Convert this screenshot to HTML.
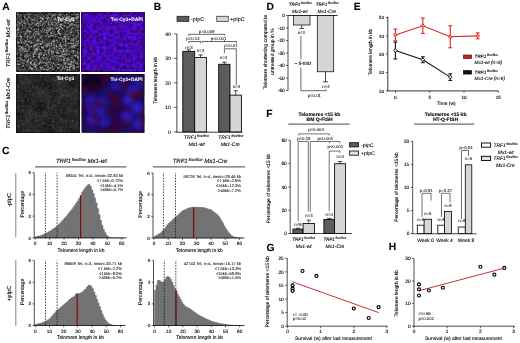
<!DOCTYPE html>
<html><head><meta charset="utf-8"><style>
html,body{margin:0;padding:0;background:#fff;width:520px;height:343px;overflow:hidden}
svg{display:block;will-change:transform;filter:blur(0.3px)}
text{font-family:"Liberation Sans", sans-serif;text-rendering:geometricPrecision;stroke:#000;stroke-width:0.1px}
</style></head><body>
<svg width="520" height="343" viewBox="0 0 520 343">
<rect width="520" height="343" fill="#fff"/>
<text x="2.20" y="9.70" font-size="10.3" text-anchor="start" font-weight="bold" font-style="normal" fill="#000" >A</text>
<text x="153.65" y="9.70" font-size="10.3" text-anchor="start" font-weight="bold" font-style="normal" fill="#000" >B</text>
<text x="1.95" y="153.90" font-size="10.3" text-anchor="start" font-weight="bold" font-style="normal" fill="#000" >C</text>
<text x="266.45" y="9.70" font-size="10.3" text-anchor="start" font-weight="bold" font-style="normal" fill="#000" >D</text>
<text x="353.65" y="9.70" font-size="10.3" text-anchor="start" font-weight="bold" font-style="normal" fill="#000" >E</text>
<text x="266.15" y="116.50" font-size="10.3" text-anchor="start" font-weight="bold" font-style="normal" fill="#000" >F</text>
<text x="266.45" y="250.60" font-size="10.3" text-anchor="start" font-weight="bold" font-style="normal" fill="#000" >G</text>
<text x="388.65" y="250.40" font-size="10.3" text-anchor="start" font-weight="bold" font-style="normal" fill="#000" >H</text>
<defs>
<filter id="gb1" x="0" y="0" width="1" height="1" color-interpolation-filters="sRGB">
 <feTurbulence type="fractalNoise" baseFrequency="0.45" numOctaves="2" seed="21"/>
 <feColorMatrix type="matrix" values="0.7 0 0 0 -0.13  0.7 0 0 0 -0.13  0.7 0 0 0 -0.13  0 0 0 0 1"/>
</filter>
<filter id="ng1" x="0" y="0" width="1" height="1" color-interpolation-filters="sRGB">
 <feTurbulence type="fractalNoise" baseFrequency="0.8" numOctaves="1" seed="3" result="t"/>
 <feColorMatrix type="matrix" values="0 0 0 0 0  0 0 0 0 0  0 0 0 0 0  3.2 0 0 0 -1.65" result="a"/>
 <feFlood flood-color="#a8a8a8"/>
 <feComposite in2="a" operator="in"/>
</filter>
<filter id="gb2" x="0" y="0" width="1" height="1" color-interpolation-filters="sRGB">
 <feTurbulence type="fractalNoise" baseFrequency="0.09" numOctaves="3" seed="7"/>
 <feColorMatrix type="matrix" values="0.2 0 0 0 0.03  0.2 0 0 0 0.03  0.2 0 0 0 0.03  0 0 0 0 1"/>
</filter>
<filter id="ng2" x="0" y="0" width="1" height="1" color-interpolation-filters="sRGB">
 <feTurbulence type="fractalNoise" baseFrequency="0.8" numOctaves="1" seed="13" result="t"/>
 <feColorMatrix type="matrix" values="0 0 0 0 0  0 0 0 0 0  0 0 0 0 0  4.0 0 0 0 -2.75" result="a"/>
 <feFlood flood-color="#909090"/>
 <feComposite in2="a" operator="in"/>
</filter>
<filter id="bb1" x="0" y="0" width="1" height="1" color-interpolation-filters="sRGB">
 <feTurbulence type="fractalNoise" baseFrequency="0.3" numOctaves="3" seed="11"/>
 <feColorMatrix type="matrix" values="0.3 0 0 0 0.1  0.08 0 0 0 -0.01  1.3 0 0 0 0.06  0 0 0 0 1"/>
</filter>
<filter id="nb1" x="0" y="0" width="1" height="1" color-interpolation-filters="sRGB">
 <feTurbulence type="fractalNoise" baseFrequency="0.22" numOctaves="3" seed="5"/>
 <feColorMatrix type="matrix" values="0 0 0 0 0.45  0 0 0 0 0.04  0 0 0 0 0.5  1.6 0 0 0 -0.75"/>
</filter>
<filter id="bb2" x="0" y="0" width="1" height="1" color-interpolation-filters="sRGB">
 <feTurbulence type="fractalNoise" baseFrequency="0.075" numOctaves="2" seed="2"/>
 <feColorMatrix type="matrix" values="0.3 0 0 0 -0.05  0.2 0 0 0 -0.05  2.2 0 0 0 -0.75  0 0 0 0 1"/>
</filter>
<filter id="nb2r" x="0" y="0" width="1" height="1" color-interpolation-filters="sRGB">
 <feTurbulence type="fractalNoise" baseFrequency="0.1" numOctaves="2" seed="9"/>
 <feColorMatrix type="matrix" values="0 0 0 0 0.3  0 0 0 0 0.02  0 0 0 0 0.12  1.8 0 0 0 -0.8"/>
</filter>
<clipPath id="cbb"><rect x="81.7" y="74" width="62.6" height="58.7"/></clipPath>
<filter id="blr" x="-0.1" y="-0.1" width="1.2" height="1.2"><feGaussianBlur stdDeviation="2.4"/></filter>
<clipPath id="cgt"><rect x="16" y="12.9" width="63.6" height="59"/></clipPath>
<filter id="sb" x="-0.05" y="-0.05" width="1.1" height="1.1"><feGaussianBlur stdDeviation="0.35"/></filter>
<filter id="fg2" x="0" y="0" width="1" height="1" color-interpolation-filters="sRGB">
 <feTurbulence type="fractalNoise" baseFrequency="0.4" numOctaves="2" seed="17"/>
 <feColorMatrix type="matrix" values="0 0 0 0 0.4  0 0 0 0 0.4  0 0 0 0 0.4  1.1 0 0 0 -0.5"/>
</filter>
</defs>
<rect x="16" y="12.9" width="63.6" height="59" filter="url(#gb1)"/>
<g clip-path="url(#cgt)" filter="url(#sb)"><circle cx="31.3" cy="19.3" r="0.59" fill="rgb(142,142,142)"/><circle cx="20.6" cy="36.4" r="0.77" fill="rgb(194,194,194)"/><circle cx="64.8" cy="26.1" r="0.64" fill="rgb(152,152,152)"/><circle cx="27.3" cy="19.5" r="0.53" fill="rgb(204,204,204)"/><circle cx="68.8" cy="59.5" r="0.73" fill="rgb(145,145,145)"/><circle cx="36.0" cy="49.3" r="0.71" fill="rgb(198,198,198)"/><circle cx="72.0" cy="18.4" r="0.66" fill="rgb(183,183,183)"/><circle cx="48.4" cy="23.6" r="0.62" fill="rgb(137,137,137)"/><circle cx="75.5" cy="62.9" r="0.64" fill="rgb(154,154,154)"/><circle cx="73.8" cy="46.1" r="0.76" fill="rgb(197,197,197)"/><circle cx="48.5" cy="37.1" r="0.66" fill="rgb(164,164,164)"/><circle cx="26.6" cy="30.9" r="0.73" fill="rgb(133,133,133)"/><circle cx="19.3" cy="49.2" r="0.55" fill="rgb(172,172,172)"/><circle cx="46.2" cy="33.0" r="0.80" fill="rgb(145,145,145)"/><circle cx="42.5" cy="25.0" r="0.67" fill="rgb(152,152,152)"/><circle cx="38.9" cy="56.1" r="0.56" fill="rgb(174,174,174)"/><circle cx="73.6" cy="19.2" r="0.47" fill="rgb(148,148,148)"/><circle cx="64.8" cy="48.6" r="0.53" fill="rgb(156,156,156)"/><circle cx="27.6" cy="39.7" r="0.46" fill="rgb(185,185,185)"/><circle cx="73.0" cy="68.0" r="0.71" fill="rgb(206,206,206)"/><circle cx="17.5" cy="29.9" r="0.79" fill="rgb(192,192,192)"/><circle cx="42.3" cy="67.4" r="0.67" fill="rgb(195,195,195)"/><circle cx="34.9" cy="24.3" r="0.61" fill="rgb(140,140,140)"/><circle cx="40.5" cy="68.4" r="0.57" fill="rgb(130,130,130)"/><circle cx="19.2" cy="23.1" r="0.72" fill="rgb(159,159,159)"/><circle cx="34.7" cy="19.0" r="0.79" fill="rgb(163,163,163)"/><circle cx="29.5" cy="16.8" r="0.47" fill="rgb(143,143,143)"/><circle cx="59.2" cy="22.0" r="0.46" fill="rgb(169,169,169)"/><circle cx="32.1" cy="70.5" r="0.49" fill="rgb(172,172,172)"/><circle cx="65.3" cy="36.8" r="0.80" fill="rgb(168,168,168)"/><circle cx="31.7" cy="36.9" r="0.46" fill="rgb(163,163,163)"/><circle cx="32.1" cy="64.3" r="0.74" fill="rgb(169,169,169)"/><circle cx="18.4" cy="28.0" r="0.53" fill="rgb(146,146,146)"/><circle cx="31.0" cy="63.1" r="0.50" fill="rgb(134,134,134)"/><circle cx="75.1" cy="45.7" r="0.80" fill="rgb(162,162,162)"/><circle cx="73.3" cy="50.8" r="0.73" fill="rgb(189,189,189)"/><circle cx="47.6" cy="18.7" r="0.52" fill="rgb(199,199,199)"/><circle cx="73.3" cy="66.3" r="0.57" fill="rgb(182,182,182)"/><circle cx="66.9" cy="50.2" r="0.74" fill="rgb(172,172,172)"/><circle cx="57.8" cy="52.6" r="0.54" fill="rgb(203,203,203)"/><circle cx="76.8" cy="17.7" r="0.79" fill="rgb(206,206,206)"/><circle cx="58.6" cy="15.9" r="0.76" fill="rgb(140,140,140)"/><circle cx="77.6" cy="51.6" r="0.47" fill="rgb(143,143,143)"/><circle cx="56.5" cy="46.0" r="0.71" fill="rgb(204,204,204)"/><circle cx="30.2" cy="13.6" r="0.77" fill="rgb(131,131,131)"/><circle cx="71.8" cy="20.0" r="0.73" fill="rgb(192,192,192)"/><circle cx="71.9" cy="44.9" r="0.76" fill="rgb(146,146,146)"/><circle cx="58.8" cy="32.3" r="0.76" fill="rgb(191,191,191)"/><circle cx="46.2" cy="43.5" r="0.46" fill="rgb(132,132,132)"/><circle cx="54.0" cy="41.4" r="0.75" fill="rgb(178,178,178)"/><circle cx="25.2" cy="34.1" r="0.72" fill="rgb(171,171,171)"/><circle cx="17.1" cy="61.3" r="0.74" fill="rgb(136,136,136)"/><circle cx="50.7" cy="35.2" r="0.73" fill="rgb(154,154,154)"/><circle cx="31.2" cy="41.2" r="0.79" fill="rgb(137,137,137)"/><circle cx="23.6" cy="48.9" r="0.76" fill="rgb(170,170,170)"/><circle cx="43.8" cy="62.5" r="0.72" fill="rgb(135,135,135)"/><circle cx="72.1" cy="24.6" r="0.56" fill="rgb(196,196,196)"/><circle cx="43.1" cy="59.1" r="0.51" fill="rgb(199,199,199)"/><circle cx="27.5" cy="21.9" r="0.62" fill="rgb(157,157,157)"/><circle cx="50.6" cy="65.1" r="0.70" fill="rgb(130,130,130)"/><circle cx="36.1" cy="44.6" r="0.62" fill="rgb(187,187,187)"/><circle cx="47.0" cy="17.7" r="0.54" fill="rgb(197,197,197)"/><circle cx="38.9" cy="57.3" r="0.80" fill="rgb(180,180,180)"/><circle cx="59.2" cy="48.3" r="0.56" fill="rgb(203,203,203)"/><circle cx="45.9" cy="65.5" r="0.56" fill="rgb(199,199,199)"/><circle cx="66.1" cy="48.5" r="0.60" fill="rgb(141,141,141)"/><circle cx="65.1" cy="34.1" r="0.68" fill="rgb(140,140,140)"/><circle cx="21.6" cy="21.6" r="0.73" fill="rgb(144,144,144)"/><circle cx="73.4" cy="34.7" r="0.65" fill="rgb(158,158,158)"/><circle cx="55.6" cy="18.7" r="0.59" fill="rgb(204,204,204)"/><circle cx="27.8" cy="50.8" r="0.56" fill="rgb(154,154,154)"/><circle cx="17.9" cy="14.5" r="0.78" fill="rgb(196,196,196)"/><circle cx="67.0" cy="59.6" r="0.78" fill="rgb(142,142,142)"/><circle cx="53.3" cy="41.7" r="0.65" fill="rgb(205,205,205)"/><circle cx="64.4" cy="68.8" r="0.49" fill="rgb(182,182,182)"/><circle cx="59.1" cy="56.0" r="0.67" fill="rgb(196,196,196)"/><circle cx="35.5" cy="66.5" r="0.59" fill="rgb(177,177,177)"/><circle cx="73.1" cy="53.6" r="0.56" fill="rgb(148,148,148)"/><circle cx="37.0" cy="49.3" r="0.80" fill="rgb(201,201,201)"/><circle cx="41.7" cy="36.3" r="0.74" fill="rgb(152,152,152)"/><circle cx="42.4" cy="14.2" r="0.51" fill="rgb(173,173,173)"/><circle cx="60.2" cy="48.6" r="0.58" fill="rgb(206,206,206)"/><circle cx="55.8" cy="22.3" r="0.47" fill="rgb(207,207,207)"/><circle cx="78.8" cy="66.0" r="0.66" fill="rgb(154,154,154)"/><circle cx="22.2" cy="28.2" r="0.53" fill="rgb(204,204,204)"/><circle cx="72.8" cy="57.9" r="0.50" fill="rgb(149,149,149)"/><circle cx="35.3" cy="67.6" r="0.51" fill="rgb(193,193,193)"/><circle cx="59.4" cy="44.7" r="0.79" fill="rgb(150,150,150)"/><circle cx="49.5" cy="22.4" r="0.48" fill="rgb(132,132,132)"/><circle cx="36.4" cy="20.4" r="0.47" fill="rgb(209,209,209)"/><circle cx="34.7" cy="64.3" r="0.70" fill="rgb(188,188,188)"/><circle cx="57.8" cy="67.9" r="0.76" fill="rgb(187,187,187)"/><circle cx="51.8" cy="53.1" r="0.70" fill="rgb(174,174,174)"/><circle cx="48.2" cy="22.2" r="0.75" fill="rgb(168,168,168)"/><circle cx="20.7" cy="23.0" r="0.76" fill="rgb(150,150,150)"/><circle cx="41.1" cy="52.4" r="0.75" fill="rgb(156,156,156)"/><circle cx="40.8" cy="37.6" r="0.46" fill="rgb(200,200,200)"/><circle cx="17.6" cy="68.3" r="0.50" fill="rgb(142,142,142)"/><circle cx="70.0" cy="60.5" r="0.53" fill="rgb(174,174,174)"/><circle cx="46.5" cy="54.5" r="0.51" fill="rgb(196,196,196)"/><circle cx="79.4" cy="53.8" r="0.77" fill="rgb(204,204,204)"/><circle cx="40.4" cy="61.9" r="0.74" fill="rgb(176,176,176)"/><circle cx="23.2" cy="48.8" r="0.77" fill="rgb(154,154,154)"/><circle cx="57.3" cy="64.7" r="0.66" fill="rgb(132,132,132)"/><circle cx="56.3" cy="28.0" r="0.75" fill="rgb(182,182,182)"/><circle cx="35.8" cy="64.6" r="0.67" fill="rgb(157,157,157)"/><circle cx="69.1" cy="64.4" r="0.76" fill="rgb(200,200,200)"/><circle cx="58.0" cy="53.4" r="0.66" fill="rgb(172,172,172)"/><circle cx="78.8" cy="33.6" r="0.48" fill="rgb(187,187,187)"/><circle cx="47.9" cy="44.6" r="0.66" fill="rgb(149,149,149)"/><circle cx="29.1" cy="17.5" r="0.72" fill="rgb(202,202,202)"/><circle cx="60.4" cy="20.1" r="0.79" fill="rgb(196,196,196)"/><circle cx="48.6" cy="13.5" r="0.75" fill="rgb(179,179,179)"/><circle cx="55.7" cy="14.4" r="0.71" fill="rgb(132,132,132)"/><circle cx="46.6" cy="21.7" r="0.58" fill="rgb(201,201,201)"/><circle cx="63.7" cy="60.1" r="0.55" fill="rgb(161,161,161)"/><circle cx="54.6" cy="15.3" r="0.59" fill="rgb(207,207,207)"/><circle cx="64.1" cy="62.7" r="0.55" fill="rgb(185,185,185)"/><circle cx="66.3" cy="53.7" r="0.60" fill="rgb(143,143,143)"/><circle cx="17.5" cy="64.1" r="0.78" fill="rgb(152,152,152)"/><circle cx="64.2" cy="36.7" r="0.67" fill="rgb(197,197,197)"/><circle cx="36.7" cy="48.9" r="0.54" fill="rgb(170,170,170)"/><circle cx="18.3" cy="28.5" r="0.55" fill="rgb(203,203,203)"/><circle cx="24.8" cy="56.8" r="0.48" fill="rgb(208,208,208)"/><circle cx="26.9" cy="18.7" r="0.52" fill="rgb(204,204,204)"/><circle cx="58.7" cy="64.3" r="0.62" fill="rgb(139,139,139)"/><circle cx="37.9" cy="39.5" r="0.80" fill="rgb(143,143,143)"/><circle cx="31.8" cy="61.6" r="0.49" fill="rgb(207,207,207)"/><circle cx="35.1" cy="45.8" r="0.68" fill="rgb(202,202,202)"/><circle cx="21.2" cy="61.8" r="0.51" fill="rgb(187,187,187)"/><circle cx="18.1" cy="57.3" r="0.51" fill="rgb(146,146,146)"/><circle cx="18.6" cy="32.0" r="0.56" fill="rgb(208,208,208)"/><circle cx="54.8" cy="34.2" r="0.80" fill="rgb(143,143,143)"/><circle cx="30.0" cy="68.1" r="0.78" fill="rgb(184,184,184)"/><circle cx="78.2" cy="16.7" r="0.77" fill="rgb(186,186,186)"/><circle cx="58.6" cy="61.6" r="0.49" fill="rgb(145,145,145)"/><circle cx="25.1" cy="40.8" r="0.64" fill="rgb(173,173,173)"/><circle cx="39.3" cy="55.9" r="0.74" fill="rgb(190,190,190)"/><circle cx="18.8" cy="22.1" r="0.53" fill="rgb(149,149,149)"/><circle cx="52.7" cy="24.5" r="0.67" fill="rgb(157,157,157)"/><circle cx="39.4" cy="53.9" r="0.78" fill="rgb(145,145,145)"/><circle cx="38.4" cy="69.5" r="0.52" fill="rgb(132,132,132)"/><circle cx="28.5" cy="60.6" r="0.71" fill="rgb(205,205,205)"/><circle cx="47.8" cy="15.8" r="0.56" fill="rgb(187,187,187)"/><circle cx="41.2" cy="21.4" r="0.58" fill="rgb(167,167,167)"/><circle cx="38.9" cy="38.9" r="0.50" fill="rgb(132,132,132)"/><circle cx="65.9" cy="55.3" r="0.60" fill="rgb(139,139,139)"/><circle cx="35.1" cy="45.3" r="0.76" fill="rgb(168,168,168)"/><circle cx="77.9" cy="43.5" r="0.51" fill="rgb(179,179,179)"/><circle cx="54.3" cy="47.7" r="0.70" fill="rgb(131,131,131)"/><circle cx="44.0" cy="59.2" r="0.50" fill="rgb(133,133,133)"/><circle cx="28.0" cy="29.7" r="0.60" fill="rgb(155,155,155)"/><circle cx="56.5" cy="23.1" r="0.57" fill="rgb(184,184,184)"/><circle cx="50.8" cy="68.2" r="0.78" fill="rgb(150,150,150)"/><circle cx="37.6" cy="44.2" r="0.64" fill="rgb(159,159,159)"/><circle cx="70.9" cy="24.7" r="0.61" fill="rgb(139,139,139)"/><circle cx="72.2" cy="47.5" r="0.80" fill="rgb(141,141,141)"/><circle cx="61.3" cy="47.5" r="0.47" fill="rgb(195,195,195)"/><circle cx="71.6" cy="18.0" r="0.78" fill="rgb(192,192,192)"/><circle cx="54.6" cy="44.5" r="0.54" fill="rgb(134,134,134)"/><circle cx="46.4" cy="62.9" r="0.52" fill="rgb(167,167,167)"/><circle cx="34.3" cy="52.9" r="0.79" fill="rgb(201,201,201)"/><circle cx="34.6" cy="37.3" r="0.45" fill="rgb(172,172,172)"/><circle cx="70.3" cy="61.7" r="0.48" fill="rgb(164,164,164)"/><circle cx="21.5" cy="37.7" r="0.77" fill="rgb(152,152,152)"/><circle cx="69.8" cy="68.0" r="0.74" fill="rgb(146,146,146)"/><circle cx="74.4" cy="66.2" r="0.80" fill="rgb(130,130,130)"/><circle cx="16.6" cy="30.1" r="0.63" fill="rgb(163,163,163)"/><circle cx="22.2" cy="50.0" r="0.68" fill="rgb(180,180,180)"/><circle cx="48.7" cy="44.8" r="0.69" fill="rgb(135,135,135)"/><circle cx="44.0" cy="21.2" r="0.49" fill="rgb(190,190,190)"/><circle cx="36.9" cy="32.8" r="0.55" fill="rgb(176,176,176)"/><circle cx="23.9" cy="50.1" r="0.47" fill="rgb(206,206,206)"/><circle cx="26.3" cy="57.3" r="0.64" fill="rgb(163,163,163)"/><circle cx="35.6" cy="34.0" r="0.72" fill="rgb(171,171,171)"/><circle cx="50.3" cy="27.6" r="0.67" fill="rgb(143,143,143)"/><circle cx="46.9" cy="50.7" r="0.64" fill="rgb(176,176,176)"/><circle cx="52.4" cy="24.5" r="0.79" fill="rgb(184,184,184)"/><circle cx="62.3" cy="68.0" r="0.61" fill="rgb(156,156,156)"/><circle cx="35.6" cy="31.5" r="0.56" fill="rgb(155,155,155)"/><circle cx="29.6" cy="41.1" r="0.55" fill="rgb(159,159,159)"/><circle cx="58.3" cy="31.4" r="0.75" fill="rgb(193,193,193)"/><circle cx="37.2" cy="61.1" r="0.51" fill="rgb(137,137,137)"/><circle cx="79.3" cy="15.3" r="0.45" fill="rgb(199,199,199)"/><circle cx="16.6" cy="50.9" r="0.64" fill="rgb(147,147,147)"/><circle cx="31.9" cy="68.7" r="0.59" fill="rgb(149,149,149)"/><circle cx="44.3" cy="55.3" r="0.55" fill="rgb(137,137,137)"/><circle cx="66.4" cy="18.9" r="0.47" fill="rgb(130,130,130)"/><circle cx="79.2" cy="38.2" r="0.71" fill="rgb(174,174,174)"/><circle cx="78.0" cy="33.0" r="0.57" fill="rgb(184,184,184)"/><circle cx="16.4" cy="34.2" r="0.72" fill="rgb(175,175,175)"/><circle cx="47.4" cy="67.0" r="0.60" fill="rgb(188,188,188)"/><circle cx="41.2" cy="18.3" r="0.59" fill="rgb(146,146,146)"/><circle cx="18.1" cy="29.8" r="0.49" fill="rgb(166,166,166)"/><circle cx="63.0" cy="56.8" r="0.76" fill="rgb(155,155,155)"/><circle cx="58.7" cy="64.3" r="0.59" fill="rgb(203,203,203)"/><circle cx="22.9" cy="66.1" r="0.76" fill="rgb(208,208,208)"/><circle cx="68.9" cy="54.1" r="0.60" fill="rgb(187,187,187)"/><circle cx="71.9" cy="46.3" r="0.67" fill="rgb(203,203,203)"/><circle cx="34.4" cy="32.6" r="0.46" fill="rgb(200,200,200)"/><circle cx="56.2" cy="51.9" r="0.53" fill="rgb(144,144,144)"/><circle cx="46.7" cy="63.6" r="0.57" fill="rgb(163,163,163)"/><circle cx="42.8" cy="61.7" r="0.49" fill="rgb(199,199,199)"/><circle cx="17.1" cy="53.4" r="0.72" fill="rgb(167,167,167)"/><circle cx="63.3" cy="29.4" r="0.50" fill="rgb(158,158,158)"/><circle cx="33.2" cy="54.4" r="0.65" fill="rgb(182,182,182)"/><circle cx="78.1" cy="57.6" r="0.73" fill="rgb(207,207,207)"/><circle cx="75.1" cy="55.8" r="0.57" fill="rgb(170,170,170)"/><circle cx="64.2" cy="58.4" r="0.76" fill="rgb(189,189,189)"/><circle cx="58.7" cy="27.9" r="0.67" fill="rgb(144,144,144)"/><circle cx="57.3" cy="23.5" r="0.46" fill="rgb(206,206,206)"/><circle cx="71.4" cy="30.8" r="0.47" fill="rgb(195,195,195)"/><circle cx="65.1" cy="22.3" r="0.74" fill="rgb(197,197,197)"/><circle cx="52.7" cy="29.1" r="0.47" fill="rgb(135,135,135)"/><circle cx="44.3" cy="54.7" r="0.67" fill="rgb(147,147,147)"/><circle cx="66.8" cy="17.0" r="0.66" fill="rgb(143,143,143)"/><circle cx="16.7" cy="24.5" r="0.73" fill="rgb(147,147,147)"/><circle cx="17.3" cy="41.0" r="0.57" fill="rgb(175,175,175)"/><circle cx="52.9" cy="53.9" r="0.77" fill="rgb(157,157,157)"/><circle cx="56.5" cy="20.2" r="0.54" fill="rgb(137,137,137)"/><circle cx="70.9" cy="32.7" r="0.70" fill="rgb(200,200,200)"/><circle cx="40.7" cy="25.2" r="0.54" fill="rgb(169,169,169)"/><circle cx="40.9" cy="17.4" r="0.75" fill="rgb(181,181,181)"/><circle cx="71.5" cy="61.8" r="0.70" fill="rgb(195,195,195)"/><circle cx="60.9" cy="37.9" r="0.74" fill="rgb(203,203,203)"/><circle cx="23.2" cy="21.7" r="0.51" fill="rgb(166,166,166)"/><circle cx="71.0" cy="43.5" r="0.75" fill="rgb(159,159,159)"/><circle cx="52.1" cy="27.5" r="0.67" fill="rgb(151,151,151)"/><circle cx="16.9" cy="36.2" r="0.65" fill="rgb(200,200,200)"/><circle cx="34.5" cy="66.4" r="0.73" fill="rgb(142,142,142)"/><circle cx="65.6" cy="66.9" r="0.79" fill="rgb(185,185,185)"/><circle cx="41.1" cy="44.5" r="0.68" fill="rgb(179,179,179)"/><circle cx="28.4" cy="64.0" r="0.64" fill="rgb(135,135,135)"/><circle cx="35.8" cy="18.0" r="0.61" fill="rgb(137,137,137)"/><circle cx="49.9" cy="29.3" r="0.74" fill="rgb(191,191,191)"/><circle cx="28.3" cy="59.8" r="0.65" fill="rgb(151,151,151)"/><circle cx="74.0" cy="13.8" r="0.59" fill="rgb(177,177,177)"/><circle cx="26.7" cy="41.5" r="0.76" fill="rgb(157,157,157)"/><circle cx="61.2" cy="24.3" r="0.79" fill="rgb(207,207,207)"/><circle cx="26.8" cy="57.1" r="0.57" fill="rgb(132,132,132)"/><circle cx="29.7" cy="55.1" r="0.61" fill="rgb(172,172,172)"/><circle cx="24.5" cy="23.2" r="0.58" fill="rgb(171,171,171)"/><circle cx="68.3" cy="39.1" r="0.56" fill="rgb(203,203,203)"/><circle cx="60.0" cy="56.6" r="0.73" fill="rgb(168,168,168)"/><circle cx="32.8" cy="19.8" r="0.68" fill="rgb(189,189,189)"/><circle cx="73.4" cy="66.0" r="0.63" fill="rgb(169,169,169)"/><circle cx="77.4" cy="18.3" r="0.58" fill="rgb(173,173,173)"/><circle cx="54.4" cy="48.4" r="0.51" fill="rgb(170,170,170)"/><circle cx="27.5" cy="35.4" r="0.51" fill="rgb(155,155,155)"/><circle cx="56.0" cy="36.2" r="0.51" fill="rgb(167,167,167)"/><circle cx="58.7" cy="30.6" r="0.55" fill="rgb(164,164,164)"/><circle cx="60.4" cy="15.5" r="0.69" fill="rgb(134,134,134)"/><circle cx="72.6" cy="24.3" r="0.74" fill="rgb(132,132,132)"/><circle cx="47.6" cy="28.1" r="0.72" fill="rgb(191,191,191)"/><circle cx="24.4" cy="16.3" r="0.71" fill="rgb(163,163,163)"/><circle cx="40.0" cy="33.3" r="0.58" fill="rgb(176,176,176)"/><circle cx="40.9" cy="20.8" r="0.62" fill="rgb(209,209,209)"/><circle cx="64.9" cy="54.5" r="0.77" fill="rgb(165,165,165)"/><circle cx="39.3" cy="58.8" r="0.49" fill="rgb(191,191,191)"/><circle cx="25.8" cy="49.1" r="0.63" fill="rgb(191,191,191)"/><circle cx="20.4" cy="51.8" r="0.74" fill="rgb(133,133,133)"/><circle cx="59.6" cy="29.4" r="0.71" fill="rgb(208,208,208)"/><circle cx="16.6" cy="36.7" r="0.62" fill="rgb(208,208,208)"/><circle cx="74.8" cy="15.0" r="0.50" fill="rgb(162,162,162)"/><circle cx="67.2" cy="58.6" r="0.64" fill="rgb(203,203,203)"/><circle cx="68.2" cy="63.6" r="0.67" fill="rgb(150,150,150)"/><circle cx="62.8" cy="54.4" r="0.77" fill="rgb(143,143,143)"/><circle cx="17.8" cy="32.9" r="0.54" fill="rgb(160,160,160)"/><circle cx="20.2" cy="48.3" r="0.60" fill="rgb(151,151,151)"/><circle cx="22.8" cy="46.2" r="0.48" fill="rgb(198,198,198)"/><circle cx="33.9" cy="64.8" r="0.49" fill="rgb(161,161,161)"/><circle cx="65.6" cy="43.2" r="0.61" fill="rgb(200,200,200)"/><circle cx="26.8" cy="62.1" r="0.63" fill="rgb(152,152,152)"/><circle cx="38.5" cy="29.3" r="0.67" fill="rgb(165,165,165)"/><circle cx="49.1" cy="50.5" r="0.75" fill="rgb(185,185,185)"/><circle cx="35.1" cy="51.5" r="0.69" fill="rgb(202,202,202)"/><circle cx="40.8" cy="43.8" r="0.71" fill="rgb(156,156,156)"/><circle cx="37.0" cy="48.9" r="0.58" fill="rgb(197,197,197)"/><circle cx="38.3" cy="26.0" r="0.66" fill="rgb(177,177,177)"/><circle cx="79.0" cy="67.3" r="0.60" fill="rgb(165,165,165)"/><circle cx="57.6" cy="42.3" r="0.66" fill="rgb(162,162,162)"/><circle cx="70.8" cy="64.4" r="0.73" fill="rgb(189,189,189)"/><circle cx="72.5" cy="28.0" r="0.78" fill="rgb(146,146,146)"/><circle cx="22.8" cy="41.7" r="0.51" fill="rgb(150,150,150)"/><circle cx="54.7" cy="21.9" r="0.59" fill="rgb(159,159,159)"/><circle cx="76.0" cy="17.9" r="0.63" fill="rgb(167,167,167)"/><circle cx="26.6" cy="33.2" r="0.58" fill="rgb(158,158,158)"/><circle cx="51.6" cy="45.2" r="0.61" fill="rgb(165,165,165)"/><circle cx="54.9" cy="41.1" r="0.49" fill="rgb(182,182,182)"/><circle cx="42.2" cy="62.2" r="0.50" fill="rgb(173,173,173)"/><circle cx="35.3" cy="49.6" r="0.74" fill="rgb(181,181,181)"/><circle cx="52.5" cy="66.7" r="0.53" fill="rgb(209,209,209)"/><circle cx="44.1" cy="49.6" r="0.50" fill="rgb(132,132,132)"/><circle cx="26.5" cy="44.5" r="0.53" fill="rgb(193,193,193)"/><circle cx="26.2" cy="51.3" r="0.77" fill="rgb(185,185,185)"/><circle cx="74.7" cy="60.5" r="0.75" fill="rgb(133,133,133)"/><circle cx="48.7" cy="30.5" r="0.60" fill="rgb(188,188,188)"/><circle cx="62.6" cy="25.1" r="0.51" fill="rgb(135,135,135)"/><circle cx="63.1" cy="60.5" r="0.48" fill="rgb(140,140,140)"/><circle cx="25.1" cy="70.0" r="0.47" fill="rgb(176,176,176)"/><circle cx="71.8" cy="23.2" r="0.69" fill="rgb(157,157,157)"/><circle cx="56.9" cy="40.2" r="0.50" fill="rgb(201,201,201)"/><circle cx="48.0" cy="69.6" r="0.66" fill="rgb(206,206,206)"/><circle cx="57.8" cy="16.7" r="0.45" fill="rgb(209,209,209)"/><circle cx="58.5" cy="58.7" r="0.74" fill="rgb(158,158,158)"/><circle cx="61.0" cy="50.4" r="0.47" fill="rgb(173,173,173)"/><circle cx="75.2" cy="45.2" r="0.73" fill="rgb(135,135,135)"/><circle cx="42.6" cy="42.3" r="0.64" fill="rgb(197,197,197)"/><circle cx="47.4" cy="45.8" r="0.63" fill="rgb(183,183,183)"/><circle cx="53.0" cy="36.0" r="0.55" fill="rgb(199,199,199)"/><circle cx="38.8" cy="54.2" r="0.55" fill="rgb(208,208,208)"/><circle cx="30.1" cy="37.4" r="0.58" fill="rgb(200,200,200)"/><circle cx="62.6" cy="28.4" r="0.54" fill="rgb(189,189,189)"/><circle cx="44.6" cy="23.7" r="0.49" fill="rgb(187,187,187)"/><circle cx="58.2" cy="59.5" r="0.48" fill="rgb(168,168,168)"/><circle cx="25.5" cy="46.0" r="0.53" fill="rgb(148,148,148)"/><circle cx="51.9" cy="22.8" r="0.73" fill="rgb(143,143,143)"/><circle cx="33.3" cy="56.6" r="0.54" fill="rgb(153,153,153)"/><circle cx="65.9" cy="45.6" r="0.73" fill="rgb(199,199,199)"/><circle cx="77.3" cy="18.3" r="0.59" fill="rgb(166,166,166)"/><circle cx="34.5" cy="63.0" r="0.59" fill="rgb(204,204,204)"/><circle cx="20.8" cy="38.8" r="0.67" fill="rgb(192,192,192)"/><circle cx="46.9" cy="64.8" r="0.55" fill="rgb(158,158,158)"/><circle cx="28.6" cy="24.2" r="0.62" fill="rgb(188,188,188)"/><circle cx="28.6" cy="41.3" r="0.60" fill="rgb(208,208,208)"/><circle cx="47.5" cy="59.7" r="0.53" fill="rgb(201,201,201)"/><circle cx="17.9" cy="22.1" r="0.67" fill="rgb(172,172,172)"/><circle cx="49.7" cy="49.0" r="0.57" fill="rgb(182,182,182)"/><circle cx="41.5" cy="46.9" r="0.70" fill="rgb(154,154,154)"/><circle cx="64.5" cy="60.6" r="0.80" fill="rgb(135,135,135)"/><circle cx="43.3" cy="22.8" r="0.51" fill="rgb(167,167,167)"/><circle cx="65.6" cy="20.6" r="0.73" fill="rgb(197,197,197)"/><circle cx="77.5" cy="56.7" r="0.52" fill="rgb(187,187,187)"/><circle cx="52.7" cy="29.0" r="0.73" fill="rgb(156,156,156)"/><circle cx="69.5" cy="63.8" r="0.59" fill="rgb(140,140,140)"/><circle cx="68.0" cy="22.4" r="0.49" fill="rgb(200,200,200)"/><circle cx="31.4" cy="28.3" r="0.59" fill="rgb(187,187,187)"/><circle cx="28.7" cy="31.5" r="0.47" fill="rgb(150,150,150)"/><circle cx="63.6" cy="50.0" r="0.66" fill="rgb(201,201,201)"/><circle cx="18.3" cy="29.5" r="0.67" fill="rgb(158,158,158)"/><circle cx="78.1" cy="26.2" r="0.79" fill="rgb(188,188,188)"/><circle cx="59.2" cy="67.3" r="0.60" fill="rgb(156,156,156)"/><circle cx="44.0" cy="55.5" r="0.74" fill="rgb(180,180,180)"/><circle cx="66.4" cy="51.5" r="0.72" fill="rgb(140,140,140)"/><circle cx="68.9" cy="43.9" r="0.56" fill="rgb(140,140,140)"/><circle cx="54.7" cy="26.0" r="0.58" fill="rgb(173,173,173)"/><circle cx="29.6" cy="26.7" r="0.48" fill="rgb(157,157,157)"/><circle cx="68.7" cy="27.4" r="0.54" fill="rgb(140,140,140)"/><circle cx="54.7" cy="55.8" r="0.52" fill="rgb(195,195,195)"/><circle cx="17.1" cy="20.1" r="0.48" fill="rgb(192,192,192)"/><circle cx="21.6" cy="55.2" r="0.52" fill="rgb(153,153,153)"/><circle cx="22.7" cy="59.8" r="0.58" fill="rgb(204,204,204)"/><circle cx="60.2" cy="45.6" r="0.61" fill="rgb(175,175,175)"/><circle cx="53.1" cy="68.9" r="0.53" fill="rgb(144,144,144)"/><circle cx="79.5" cy="52.8" r="0.67" fill="rgb(167,167,167)"/><circle cx="17.2" cy="26.2" r="0.73" fill="rgb(151,151,151)"/><circle cx="54.6" cy="41.3" r="0.51" fill="rgb(134,134,134)"/><circle cx="20.6" cy="54.2" r="0.53" fill="rgb(170,170,170)"/><circle cx="52.9" cy="56.9" r="0.51" fill="rgb(164,164,164)"/><circle cx="64.1" cy="51.4" r="0.62" fill="rgb(181,181,181)"/><circle cx="66.1" cy="63.6" r="0.64" fill="rgb(138,138,138)"/><circle cx="24.6" cy="51.5" r="0.69" fill="rgb(165,165,165)"/><circle cx="60.5" cy="25.8" r="0.59" fill="rgb(160,160,160)"/><circle cx="63.8" cy="68.6" r="0.55" fill="rgb(137,137,137)"/><circle cx="39.7" cy="62.9" r="0.80" fill="rgb(134,134,134)"/><circle cx="37.6" cy="40.6" r="0.76" fill="rgb(175,175,175)"/><circle cx="43.5" cy="69.1" r="0.71" fill="rgb(201,201,201)"/><circle cx="67.6" cy="69.6" r="0.69" fill="rgb(192,192,192)"/><circle cx="48.3" cy="52.2" r="0.78" fill="rgb(205,205,205)"/><circle cx="73.3" cy="52.1" r="0.62" fill="rgb(163,163,163)"/><circle cx="41.1" cy="67.9" r="0.68" fill="rgb(193,193,193)"/><circle cx="58.5" cy="19.2" r="0.61" fill="rgb(157,157,157)"/><circle cx="77.6" cy="52.7" r="0.58" fill="rgb(170,170,170)"/><circle cx="72.8" cy="43.6" r="0.70" fill="rgb(158,158,158)"/><circle cx="43.4" cy="57.2" r="0.52" fill="rgb(184,184,184)"/><circle cx="69.6" cy="70.3" r="0.64" fill="rgb(179,179,179)"/><circle cx="79.2" cy="58.8" r="0.75" fill="rgb(172,172,172)"/><circle cx="24.8" cy="60.7" r="0.48" fill="rgb(187,187,187)"/><circle cx="34.8" cy="59.6" r="0.67" fill="rgb(170,170,170)"/><circle cx="46.7" cy="30.5" r="0.80" fill="rgb(174,174,174)"/><circle cx="77.0" cy="20.2" r="0.46" fill="rgb(144,144,144)"/><circle cx="36.6" cy="69.8" r="0.49" fill="rgb(171,171,171)"/><circle cx="70.5" cy="30.8" r="0.55" fill="rgb(146,146,146)"/><circle cx="19.8" cy="46.7" r="0.65" fill="rgb(147,147,147)"/><circle cx="51.9" cy="42.1" r="0.69" fill="rgb(149,149,149)"/><circle cx="30.8" cy="63.5" r="0.69" fill="rgb(190,190,190)"/><circle cx="38.1" cy="46.8" r="0.58" fill="rgb(184,184,184)"/><circle cx="76.8" cy="41.3" r="0.61" fill="rgb(186,186,186)"/><circle cx="47.8" cy="34.4" r="0.46" fill="rgb(195,195,195)"/><circle cx="48.6" cy="61.9" r="0.57" fill="rgb(200,200,200)"/><circle cx="67.4" cy="26.8" r="0.72" fill="rgb(133,133,133)"/><circle cx="57.1" cy="58.0" r="0.70" fill="rgb(153,153,153)"/><circle cx="38.6" cy="23.8" r="0.76" fill="rgb(177,177,177)"/><circle cx="65.8" cy="41.4" r="0.60" fill="rgb(205,205,205)"/><circle cx="75.5" cy="55.8" r="0.68" fill="rgb(201,201,201)"/><circle cx="36.8" cy="31.7" r="0.73" fill="rgb(183,183,183)"/><circle cx="64.7" cy="54.3" r="0.59" fill="rgb(139,139,139)"/><circle cx="65.3" cy="63.2" r="0.64" fill="rgb(155,155,155)"/><circle cx="69.9" cy="24.2" r="0.52" fill="rgb(176,176,176)"/><circle cx="46.7" cy="56.9" r="0.46" fill="rgb(204,204,204)"/><circle cx="34.1" cy="41.9" r="0.46" fill="rgb(160,160,160)"/><circle cx="48.4" cy="67.5" r="0.52" fill="rgb(140,140,140)"/><circle cx="71.1" cy="66.1" r="0.62" fill="rgb(171,171,171)"/><circle cx="72.1" cy="39.8" r="0.61" fill="rgb(164,164,164)"/><circle cx="31.7" cy="29.1" r="0.58" fill="rgb(135,135,135)"/><circle cx="45.7" cy="58.0" r="0.75" fill="rgb(140,140,140)"/><circle cx="39.4" cy="63.2" r="0.78" fill="rgb(155,155,155)"/><circle cx="27.7" cy="61.4" r="0.55" fill="rgb(182,182,182)"/><circle cx="74.9" cy="27.8" r="0.55" fill="rgb(175,175,175)"/><circle cx="21.7" cy="42.4" r="0.65" fill="rgb(164,164,164)"/><circle cx="63.2" cy="51.5" r="0.65" fill="rgb(195,195,195)"/><circle cx="25.4" cy="23.6" r="0.55" fill="rgb(144,144,144)"/><circle cx="73.1" cy="62.1" r="0.76" fill="rgb(161,161,161)"/><circle cx="70.2" cy="66.8" r="0.72" fill="rgb(197,197,197)"/><circle cx="59.7" cy="14.1" r="0.56" fill="rgb(150,150,150)"/><circle cx="49.9" cy="45.6" r="0.77" fill="rgb(150,150,150)"/><circle cx="78.1" cy="22.1" r="0.72" fill="rgb(155,155,155)"/><circle cx="52.0" cy="48.7" r="0.47" fill="rgb(176,176,176)"/><circle cx="58.1" cy="28.3" r="0.48" fill="rgb(178,178,178)"/><circle cx="32.8" cy="23.5" r="0.53" fill="rgb(175,175,175)"/><circle cx="46.0" cy="35.3" r="0.49" fill="rgb(147,147,147)"/><circle cx="55.2" cy="36.3" r="0.51" fill="rgb(195,195,195)"/><circle cx="51.0" cy="33.1" r="0.79" fill="rgb(173,173,173)"/><circle cx="26.0" cy="40.8" r="0.54" fill="rgb(197,197,197)"/><circle cx="65.7" cy="17.7" r="0.50" fill="rgb(183,183,183)"/><circle cx="48.2" cy="31.2" r="0.62" fill="rgb(141,141,141)"/><circle cx="46.0" cy="45.8" r="0.78" fill="rgb(178,178,178)"/><circle cx="52.8" cy="15.6" r="0.63" fill="rgb(175,175,175)"/><circle cx="58.4" cy="31.3" r="0.78" fill="rgb(186,186,186)"/><circle cx="62.0" cy="69.3" r="0.78" fill="rgb(140,140,140)"/><circle cx="73.2" cy="43.7" r="0.66" fill="rgb(131,131,131)"/><circle cx="20.6" cy="58.9" r="0.58" fill="rgb(208,208,208)"/><circle cx="76.2" cy="44.3" r="0.66" fill="rgb(177,177,177)"/><circle cx="50.5" cy="59.8" r="0.80" fill="rgb(156,156,156)"/><circle cx="42.7" cy="35.8" r="0.48" fill="rgb(142,142,142)"/><circle cx="27.9" cy="56.0" r="0.51" fill="rgb(177,177,177)"/><circle cx="78.1" cy="36.8" r="0.80" fill="rgb(150,150,150)"/><circle cx="38.9" cy="21.6" r="0.50" fill="rgb(162,162,162)"/><circle cx="65.3" cy="50.8" r="0.53" fill="rgb(135,135,135)"/><circle cx="21.2" cy="32.3" r="0.64" fill="rgb(130,130,130)"/><circle cx="23.0" cy="51.5" r="0.53" fill="rgb(133,133,133)"/><circle cx="67.6" cy="17.7" r="0.71" fill="rgb(134,134,134)"/><circle cx="70.8" cy="40.4" r="0.57" fill="rgb(146,146,146)"/><circle cx="68.3" cy="37.2" r="0.65" fill="rgb(155,155,155)"/><circle cx="27.7" cy="31.1" r="0.54" fill="rgb(189,189,189)"/><circle cx="68.4" cy="57.7" r="0.55" fill="rgb(157,157,157)"/><circle cx="76.1" cy="39.8" r="0.65" fill="rgb(134,134,134)"/><circle cx="65.5" cy="38.8" r="0.53" fill="rgb(168,168,168)"/><circle cx="29.1" cy="33.6" r="0.58" fill="rgb(164,164,164)"/><circle cx="37.8" cy="23.0" r="0.74" fill="rgb(172,172,172)"/><circle cx="40.3" cy="49.4" r="0.48" fill="rgb(153,153,153)"/><circle cx="38.9" cy="41.0" r="0.75" fill="rgb(165,165,165)"/><circle cx="42.2" cy="47.8" r="0.72" fill="rgb(155,155,155)"/><circle cx="59.3" cy="34.1" r="0.46" fill="rgb(135,135,135)"/><circle cx="19.6" cy="35.8" r="0.53" fill="rgb(175,175,175)"/><circle cx="62.9" cy="39.2" r="0.71" fill="rgb(154,154,154)"/><circle cx="28.3" cy="60.6" r="0.64" fill="rgb(147,147,147)"/><circle cx="39.1" cy="64.0" r="0.47" fill="rgb(198,198,198)"/><circle cx="23.6" cy="63.6" r="0.64" fill="rgb(139,139,139)"/><circle cx="33.8" cy="35.9" r="0.66" fill="rgb(193,193,193)"/><circle cx="69.7" cy="26.0" r="0.65" fill="rgb(191,191,191)"/><circle cx="28.5" cy="59.7" r="0.53" fill="rgb(177,177,177)"/><circle cx="47.9" cy="44.0" r="0.75" fill="rgb(141,141,141)"/><circle cx="32.9" cy="68.6" r="0.67" fill="rgb(202,202,202)"/><circle cx="30.9" cy="31.7" r="0.65" fill="rgb(192,192,192)"/><circle cx="48.7" cy="17.7" r="0.61" fill="rgb(191,191,191)"/><circle cx="72.1" cy="18.5" r="0.59" fill="rgb(202,202,202)"/><circle cx="62.8" cy="48.7" r="0.51" fill="rgb(169,169,169)"/><circle cx="42.8" cy="42.1" r="0.62" fill="rgb(137,137,137)"/><circle cx="67.7" cy="38.6" r="0.52" fill="rgb(179,179,179)"/><circle cx="36.8" cy="20.7" r="0.65" fill="rgb(131,131,131)"/><circle cx="74.4" cy="46.0" r="0.54" fill="rgb(204,204,204)"/><circle cx="53.1" cy="14.2" r="0.70" fill="rgb(134,134,134)"/><circle cx="33.9" cy="46.0" r="0.68" fill="rgb(206,206,206)"/><circle cx="68.1" cy="23.6" r="0.64" fill="rgb(138,138,138)"/><circle cx="60.9" cy="37.8" r="0.68" fill="rgb(135,135,135)"/><circle cx="47.6" cy="38.4" r="0.47" fill="rgb(182,182,182)"/><circle cx="78.3" cy="56.1" r="0.79" fill="rgb(137,137,137)"/><circle cx="56.8" cy="46.7" r="0.61" fill="rgb(194,194,194)"/><circle cx="42.5" cy="18.4" r="0.67" fill="rgb(198,198,198)"/><circle cx="39.8" cy="49.3" r="0.50" fill="rgb(208,208,208)"/><circle cx="78.2" cy="14.3" r="0.67" fill="rgb(204,204,204)"/><circle cx="48.9" cy="18.0" r="0.71" fill="rgb(170,170,170)"/><circle cx="38.0" cy="16.7" r="0.53" fill="rgb(195,195,195)"/><circle cx="46.1" cy="43.9" r="0.67" fill="rgb(160,160,160)"/><circle cx="64.4" cy="54.8" r="0.46" fill="rgb(181,181,181)"/><circle cx="18.1" cy="42.3" r="0.77" fill="rgb(196,196,196)"/><circle cx="35.6" cy="66.7" r="0.51" fill="rgb(186,186,186)"/><circle cx="64.7" cy="15.7" r="0.54" fill="rgb(172,172,172)"/><circle cx="79.4" cy="22.9" r="0.61" fill="rgb(201,201,201)"/><circle cx="27.3" cy="61.1" r="0.71" fill="rgb(193,193,193)"/><circle cx="38.0" cy="48.0" r="0.50" fill="rgb(152,152,152)"/><circle cx="67.6" cy="19.9" r="0.64" fill="rgb(136,136,136)"/><circle cx="67.4" cy="50.1" r="0.49" fill="rgb(200,200,200)"/><circle cx="57.6" cy="50.2" r="0.48" fill="rgb(196,196,196)"/><circle cx="60.6" cy="35.4" r="0.48" fill="rgb(191,191,191)"/><circle cx="30.3" cy="58.5" r="0.65" fill="rgb(159,159,159)"/><circle cx="44.8" cy="29.5" r="0.63" fill="rgb(200,200,200)"/><circle cx="52.0" cy="35.6" r="0.69" fill="rgb(207,207,207)"/><circle cx="28.0" cy="45.4" r="0.76" fill="rgb(174,174,174)"/><circle cx="31.3" cy="24.1" r="0.70" fill="rgb(175,175,175)"/><circle cx="21.3" cy="19.5" r="0.56" fill="rgb(174,174,174)"/><circle cx="44.2" cy="30.2" r="0.54" fill="rgb(177,177,177)"/><circle cx="66.1" cy="34.8" r="0.61" fill="rgb(185,185,185)"/><circle cx="39.5" cy="57.7" r="0.45" fill="rgb(151,151,151)"/><circle cx="52.9" cy="19.9" r="0.46" fill="rgb(179,179,179)"/><circle cx="51.9" cy="50.7" r="0.75" fill="rgb(155,155,155)"/><circle cx="73.7" cy="62.5" r="0.78" fill="rgb(154,154,154)"/><circle cx="20.4" cy="58.0" r="0.52" fill="rgb(134,134,134)"/><circle cx="62.1" cy="53.3" r="0.68" fill="rgb(138,138,138)"/><circle cx="61.5" cy="27.4" r="0.62" fill="rgb(184,184,184)"/><circle cx="38.6" cy="33.9" r="0.74" fill="rgb(182,182,182)"/><circle cx="69.0" cy="16.3" r="0.72" fill="rgb(144,144,144)"/><circle cx="36.8" cy="50.5" r="0.73" fill="rgb(181,181,181)"/><circle cx="48.4" cy="44.1" r="0.66" fill="rgb(147,147,147)"/><circle cx="39.9" cy="38.1" r="0.49" fill="rgb(164,164,164)"/><circle cx="60.1" cy="13.9" r="0.57" fill="rgb(204,204,204)"/><circle cx="73.6" cy="20.6" r="0.77" fill="rgb(203,203,203)"/><circle cx="56.3" cy="25.5" r="0.61" fill="rgb(141,141,141)"/><circle cx="51.1" cy="19.1" r="0.59" fill="rgb(141,141,141)"/><circle cx="59.3" cy="33.4" r="0.75" fill="rgb(196,196,196)"/><circle cx="26.3" cy="55.2" r="0.71" fill="rgb(151,151,151)"/><circle cx="68.6" cy="16.8" r="0.56" fill="rgb(185,185,185)"/><circle cx="67.3" cy="67.5" r="0.65" fill="rgb(188,188,188)"/><circle cx="76.4" cy="66.9" r="0.56" fill="rgb(165,165,165)"/><circle cx="65.2" cy="43.3" r="0.48" fill="rgb(202,202,202)"/><circle cx="40.9" cy="22.4" r="0.57" fill="rgb(132,132,132)"/><circle cx="74.1" cy="21.4" r="0.45" fill="rgb(206,206,206)"/><circle cx="35.9" cy="49.1" r="0.58" fill="rgb(157,157,157)"/><circle cx="74.9" cy="55.3" r="0.57" fill="rgb(196,196,196)"/><circle cx="65.1" cy="63.0" r="0.60" fill="rgb(164,164,164)"/><circle cx="73.3" cy="39.8" r="0.58" fill="rgb(179,179,179)"/><circle cx="60.5" cy="43.1" r="0.48" fill="rgb(209,209,209)"/><circle cx="27.9" cy="46.8" r="0.56" fill="rgb(134,134,134)"/><circle cx="31.1" cy="36.9" r="0.47" fill="rgb(137,137,137)"/><circle cx="49.1" cy="36.5" r="0.47" fill="rgb(155,155,155)"/><circle cx="30.6" cy="62.5" r="0.77" fill="rgb(200,200,200)"/><circle cx="73.0" cy="40.8" r="0.53" fill="rgb(180,180,180)"/><circle cx="30.5" cy="66.2" r="0.53" fill="rgb(176,176,176)"/><circle cx="55.3" cy="19.1" r="0.71" fill="rgb(168,168,168)"/><circle cx="60.4" cy="44.4" r="0.72" fill="rgb(138,138,138)"/><circle cx="30.4" cy="52.3" r="0.48" fill="rgb(162,162,162)"/><circle cx="61.3" cy="21.4" r="0.59" fill="rgb(186,186,186)"/><circle cx="29.4" cy="31.1" r="0.63" fill="rgb(198,198,198)"/><circle cx="49.3" cy="62.1" r="0.62" fill="rgb(138,138,138)"/><circle cx="72.9" cy="38.4" r="0.50" fill="rgb(175,175,175)"/><circle cx="44.1" cy="13.5" r="0.56" fill="rgb(140,140,140)"/><circle cx="41.5" cy="31.8" r="0.78" fill="rgb(133,133,133)"/><circle cx="35.2" cy="14.9" r="0.58" fill="rgb(158,158,158)"/><circle cx="36.7" cy="24.1" r="0.56" fill="rgb(196,196,196)"/><circle cx="73.5" cy="43.5" r="0.65" fill="rgb(149,149,149)"/><circle cx="76.5" cy="14.7" r="0.63" fill="rgb(172,172,172)"/><circle cx="48.6" cy="66.6" r="0.66" fill="rgb(139,139,139)"/><circle cx="23.2" cy="47.3" r="0.46" fill="rgb(160,160,160)"/><circle cx="65.6" cy="40.0" r="0.80" fill="rgb(167,167,167)"/><circle cx="37.9" cy="18.5" r="0.61" fill="rgb(163,163,163)"/><circle cx="61.7" cy="46.8" r="0.75" fill="rgb(168,168,168)"/><circle cx="43.0" cy="19.4" r="0.71" fill="rgb(155,155,155)"/><circle cx="45.7" cy="51.2" r="0.64" fill="rgb(144,144,144)"/><circle cx="58.6" cy="22.0" r="0.77" fill="rgb(209,209,209)"/><circle cx="78.7" cy="40.9" r="0.57" fill="rgb(175,175,175)"/><circle cx="64.7" cy="26.2" r="0.67" fill="rgb(157,157,157)"/><circle cx="40.3" cy="17.3" r="0.70" fill="rgb(157,157,157)"/><circle cx="51.7" cy="43.8" r="0.75" fill="rgb(188,188,188)"/><circle cx="63.2" cy="66.8" r="0.74" fill="rgb(141,141,141)"/><circle cx="71.3" cy="63.6" r="0.52" fill="rgb(152,152,152)"/><circle cx="64.7" cy="64.1" r="0.47" fill="rgb(191,191,191)"/><circle cx="71.5" cy="39.1" r="0.53" fill="rgb(149,149,149)"/><circle cx="31.4" cy="62.1" r="0.72" fill="rgb(150,150,150)"/><circle cx="63.4" cy="60.2" r="0.54" fill="rgb(201,201,201)"/><circle cx="55.2" cy="17.1" r="0.59" fill="rgb(157,157,157)"/><circle cx="28.8" cy="49.3" r="0.60" fill="rgb(205,205,205)"/><circle cx="44.8" cy="45.9" r="0.77" fill="rgb(130,130,130)"/><circle cx="36.2" cy="65.2" r="0.68" fill="rgb(197,197,197)"/><circle cx="20.6" cy="58.7" r="0.54" fill="rgb(155,155,155)"/><circle cx="38.8" cy="43.5" r="0.75" fill="rgb(183,183,183)"/><circle cx="60.2" cy="26.5" r="0.70" fill="rgb(160,160,160)"/><circle cx="69.0" cy="48.3" r="0.51" fill="rgb(161,161,161)"/><circle cx="58.4" cy="50.4" r="0.53" fill="rgb(146,146,146)"/><circle cx="63.2" cy="18.6" r="0.63" fill="rgb(192,192,192)"/><circle cx="29.3" cy="14.8" r="0.79" fill="rgb(195,195,195)"/><circle cx="61.5" cy="56.1" r="0.73" fill="rgb(168,168,168)"/><circle cx="74.1" cy="68.2" r="0.70" fill="rgb(188,188,188)"/><circle cx="19.7" cy="23.6" r="0.64" fill="rgb(192,192,192)"/><circle cx="18.6" cy="64.5" r="0.77" fill="rgb(133,133,133)"/><circle cx="62.0" cy="54.1" r="0.55" fill="rgb(175,175,175)"/><circle cx="27.7" cy="37.8" r="0.77" fill="rgb(163,163,163)"/><circle cx="47.5" cy="32.1" r="0.69" fill="rgb(170,170,170)"/><circle cx="40.7" cy="43.8" r="0.67" fill="rgb(204,204,204)"/><circle cx="35.5" cy="24.2" r="0.53" fill="rgb(150,150,150)"/><circle cx="50.1" cy="20.3" r="0.51" fill="rgb(166,166,166)"/><circle cx="16.9" cy="35.5" r="0.76" fill="rgb(152,152,152)"/><circle cx="53.5" cy="52.0" r="0.69" fill="rgb(207,207,207)"/><circle cx="48.7" cy="24.7" r="0.71" fill="rgb(141,141,141)"/><circle cx="43.5" cy="16.5" r="0.52" fill="rgb(152,152,152)"/><circle cx="54.6" cy="64.2" r="0.48" fill="rgb(206,206,206)"/><circle cx="36.5" cy="29.8" r="0.46" fill="rgb(153,153,153)"/><circle cx="16.5" cy="34.4" r="0.70" fill="rgb(172,172,172)"/><circle cx="31.5" cy="68.5" r="0.76" fill="rgb(179,179,179)"/><circle cx="33.4" cy="35.3" r="0.48" fill="rgb(189,189,189)"/><circle cx="56.5" cy="52.9" r="0.68" fill="rgb(167,167,167)"/><circle cx="48.0" cy="34.4" r="0.55" fill="rgb(136,136,136)"/><circle cx="54.0" cy="45.7" r="0.77" fill="rgb(164,164,164)"/><circle cx="78.9" cy="17.6" r="0.62" fill="rgb(169,169,169)"/><circle cx="53.6" cy="63.4" r="0.65" fill="rgb(183,183,183)"/><circle cx="70.1" cy="69.3" r="0.49" fill="rgb(195,195,195)"/><circle cx="41.2" cy="54.3" r="0.73" fill="rgb(137,137,137)"/><circle cx="19.7" cy="64.4" r="0.64" fill="rgb(195,195,195)"/><circle cx="24.5" cy="43.6" r="0.65" fill="rgb(137,137,137)"/><circle cx="57.3" cy="28.2" r="0.67" fill="rgb(142,142,142)"/><circle cx="60.0" cy="46.1" r="0.71" fill="rgb(181,181,181)"/><circle cx="66.2" cy="13.6" r="0.48" fill="rgb(162,162,162)"/><circle cx="42.2" cy="41.5" r="0.66" fill="rgb(157,157,157)"/><circle cx="34.7" cy="29.7" r="0.56" fill="rgb(170,170,170)"/><circle cx="74.1" cy="25.0" r="0.73" fill="rgb(185,185,185)"/><circle cx="43.2" cy="47.6" r="0.68" fill="rgb(197,197,197)"/><circle cx="20.1" cy="46.0" r="0.60" fill="rgb(152,152,152)"/><circle cx="71.7" cy="29.1" r="0.68" fill="rgb(191,191,191)"/><circle cx="69.2" cy="21.4" r="0.66" fill="rgb(146,146,146)"/><circle cx="66.5" cy="14.1" r="0.59" fill="rgb(200,200,200)"/><circle cx="18.6" cy="29.2" r="0.68" fill="rgb(147,147,147)"/><circle cx="77.4" cy="30.4" r="0.62" fill="rgb(162,162,162)"/><circle cx="53.9" cy="19.1" r="0.65" fill="rgb(173,173,173)"/><circle cx="24.3" cy="26.0" r="0.47" fill="rgb(168,168,168)"/><circle cx="31.5" cy="43.0" r="0.66" fill="rgb(177,177,177)"/><circle cx="31.3" cy="46.2" r="0.68" fill="rgb(174,174,174)"/><circle cx="17.2" cy="13.7" r="0.55" fill="rgb(178,178,178)"/><circle cx="33.7" cy="56.3" r="0.76" fill="rgb(187,187,187)"/><circle cx="21.7" cy="47.8" r="0.74" fill="rgb(202,202,202)"/><circle cx="20.4" cy="46.2" r="0.53" fill="rgb(171,171,171)"/><circle cx="41.9" cy="63.5" r="0.49" fill="rgb(144,144,144)"/><circle cx="61.9" cy="59.5" r="0.55" fill="rgb(209,209,209)"/><circle cx="56.6" cy="55.5" r="0.46" fill="rgb(187,187,187)"/><circle cx="51.3" cy="18.1" r="0.51" fill="rgb(151,151,151)"/><circle cx="79.1" cy="30.5" r="0.65" fill="rgb(150,150,150)"/><circle cx="42.9" cy="40.4" r="0.46" fill="rgb(134,134,134)"/><circle cx="51.3" cy="23.4" r="0.59" fill="rgb(131,131,131)"/><circle cx="50.0" cy="27.9" r="0.68" fill="rgb(189,189,189)"/><circle cx="77.0" cy="63.9" r="0.67" fill="rgb(181,181,181)"/><circle cx="78.2" cy="42.0" r="0.62" fill="rgb(157,157,157)"/></g>
<rect x="81.7" y="12.9" width="62.6" height="59" filter="url(#bb1)"/>
<rect x="81.7" y="12.9" width="62.6" height="59" filter="url(#nb1)"/>
<rect x="16" y="74" width="63.6" height="58.7" filter="url(#gb2)"/>
<rect x="16" y="74" width="63.6" height="58.7" filter="url(#fg2)"/>
<rect x="16" y="74" width="63.6" height="58.7" filter="url(#ng2)"/>
<rect x="81.70" y="74.00" width="62.60" height="58.70" fill="#1c0c60" stroke="none" stroke-width="0.6" />
<g clip-path="url(#cbb)" filter="url(#blr)">
<ellipse cx="92" cy="82" rx="12" ry="9" fill="#120420" opacity="0.95"/>
<ellipse cx="104" cy="78" rx="8" ry="5" fill="#1a0630" opacity="0.8"/>
<ellipse cx="118" cy="110" rx="6" ry="14" fill="#2a0838" opacity="0.7"/>
<ellipse cx="112" cy="128" rx="10" ry="4" fill="#300828" opacity="0.7"/>
<ellipse cx="84" cy="110" rx="3" ry="8" fill="#2a0830" opacity="0.6"/>
<ellipse cx="140" cy="130" rx="6" ry="3" fill="#300828" opacity="0.6"/>
<ellipse cx="90.6" cy="100" rx="4.5" ry="4" fill="#2c1cd0" opacity="0.95"/>
<ellipse cx="102.6" cy="101.5" rx="4" ry="4" fill="#2c1cd0" opacity="0.85"/>
<ellipse cx="92.3" cy="108.4" rx="4.5" ry="4" fill="#3020d8" opacity="0.9"/>
<ellipse cx="101" cy="112" rx="4" ry="4" fill="#3020d8" opacity="0.85"/>
<ellipse cx="92.3" cy="120.5" rx="5" ry="4.5" fill="#3020d8" opacity="0.95"/>
<ellipse cx="104.4" cy="122" rx="4" ry="4" fill="#3020d8" opacity="0.8"/>
<ellipse cx="116" cy="86" rx="5" ry="4" fill="#2818c0" opacity="0.75"/>
<ellipse cx="132" cy="91" rx="6" ry="5" fill="#3020d0" opacity="0.8"/>
<ellipse cx="139" cy="84" rx="5" ry="4" fill="#2a1ac8" opacity="0.75"/>
<ellipse cx="128.5" cy="100" rx="5" ry="4.5" fill="#3222dc" opacity="0.95"/>
<ellipse cx="137" cy="108" rx="5.5" ry="5" fill="#3222dc" opacity="0.95"/>
<ellipse cx="127" cy="117" rx="5" ry="5" fill="#3020d6" opacity="0.9"/>
<ellipse cx="139" cy="124" rx="5.5" ry="5" fill="#3020d6" opacity="0.9"/>
<ellipse cx="122" cy="80" rx="5" ry="3" fill="#2416a8" opacity="0.6"/>
</g>
<rect x="81.7" y="74" width="62.6" height="58.7" filter="url(#nb2r)"/>
<rect x="16.35" y="13.25" width="62.9" height="58.3" fill="none" stroke="#0a0a0a" stroke-width="0.7" opacity="0.8"/>
<rect x="82.05" y="13.25" width="61.9" height="58.3" fill="none" stroke="#0a0a0a" stroke-width="0.7" opacity="0.8"/>
<rect x="16.35" y="74.35" width="62.9" height="58.0" fill="none" stroke="#0a0a0a" stroke-width="0.7" opacity="0.8"/>
<rect x="82.05" y="74.35" width="61.9" height="58.0" fill="none" stroke="#0a0a0a" stroke-width="0.7" opacity="0.8"/>
<text x="74.40" y="20.90" font-size="4.95" text-anchor="end" font-weight="bold" font-style="normal" fill="#f4f4f4" style="stroke:#f4f4f4;stroke-width:0.05px">Tel-Cy3</text>
<text x="143.00" y="21.10" font-size="4.95" text-anchor="end" font-weight="bold" font-style="normal" fill="#f4f4f4" style="stroke:#f4f4f4;stroke-width:0.05px">Tel-Cy3+DAPI</text>
<text x="74.20" y="80.30" font-size="4.95" text-anchor="end" font-weight="bold" font-style="normal" fill="#f4f4f4" style="stroke:#f4f4f4;stroke-width:0.05px">Tel-Cy3</text>
<text x="142.70" y="80.50" font-size="4.95" text-anchor="end" font-weight="bold" font-style="normal" fill="#f4f4f4" style="stroke:#f4f4f4;stroke-width:0.05px">Tel-Cy3+DAPI</text>
<text transform="translate(9.60,43.20) rotate(-90)" x="0" y="0" font-size="5.6" text-anchor="middle" fill="#000" font-style="italic">TRF1<tspan font-size="3.92" dy="-2.02" dx="0.67">flox/flox</tspan><tspan dy="2.02"> Mx1-wt</tspan></text>
<text transform="translate(9.60,103.30) rotate(-90)" x="0" y="0" font-size="5.6" text-anchor="middle" fill="#000" font-style="italic">TRF1<tspan font-size="3.92" dy="-2.02" dx="0.67">flox/flox</tspan><tspan dy="2.02"> Mx1-Cre</tspan></text>
<rect x="177.00" y="16.20" width="11.90" height="5.30" fill="#5c5c5c" stroke="#000" stroke-width="0.6" />
<text x="191.00" y="20.70" font-size="5.3" text-anchor="start" font-weight="normal" font-style="normal" fill="#000" >-pIpC</text>
<rect x="216.80" y="16.20" width="11.40" height="5.30" fill="#d6d6d6" stroke="#000" stroke-width="0.6" />
<text x="230.20" y="20.70" font-size="5.3" text-anchor="start" font-weight="normal" font-style="normal" fill="#000" >+pIpC</text>
<line x1="176.90" y1="33.90" x2="176.90" y2="132.20" stroke="#000" stroke-width="0.75" />
<line x1="176.50" y1="132.20" x2="242.50" y2="132.20" stroke="#000" stroke-width="0.75" />
<line x1="173.80" y1="131.90" x2="176.90" y2="131.90" stroke="#000" stroke-width="0.6" />
<text x="170.70" y="133.60" font-size="5" text-anchor="end" font-weight="normal" font-style="normal" fill="#000" >0</text>
<line x1="173.80" y1="107.40" x2="176.90" y2="107.40" stroke="#000" stroke-width="0.6" />
<text x="170.70" y="109.10" font-size="5" text-anchor="end" font-weight="normal" font-style="normal" fill="#000" >10</text>
<line x1="173.80" y1="82.90" x2="176.90" y2="82.90" stroke="#000" stroke-width="0.6" />
<text x="170.70" y="84.60" font-size="5" text-anchor="end" font-weight="normal" font-style="normal" fill="#000" >20</text>
<line x1="173.80" y1="58.40" x2="176.90" y2="58.40" stroke="#000" stroke-width="0.6" />
<text x="170.70" y="60.10" font-size="5" text-anchor="end" font-weight="normal" font-style="normal" fill="#000" >30</text>
<line x1="173.80" y1="33.90" x2="176.90" y2="33.90" stroke="#000" stroke-width="0.6" />
<text x="170.70" y="35.60" font-size="5" text-anchor="end" font-weight="normal" font-style="normal" fill="#000" >40</text>
<text transform="translate(156.60,80.20) rotate(-90)" x="0" y="0" font-size="4.95" text-anchor="middle" fill="#000">Telomere length in kb</text>

<rect x="182.80" y="51.39" width="11.90" height="80.51" fill="#5c5c5c" stroke="#000" stroke-width="0.85" />
<line x1="188.75" y1="51.39" x2="188.75" y2="49.92" stroke="#000" stroke-width="0.7" />
<line x1="186.55" y1="49.92" x2="190.95" y2="49.92" stroke="#000" stroke-width="0.7" />
<rect x="194.70" y="57.42" width="11.70" height="74.48" fill="#d6d6d6" stroke="#000" stroke-width="0.85" />
<line x1="200.55" y1="57.42" x2="200.55" y2="54.97" stroke="#000" stroke-width="0.7" />
<line x1="198.35" y1="54.97" x2="202.75" y2="54.97" stroke="#000" stroke-width="0.7" />
<rect x="218.70" y="64.28" width="11.30" height="67.62" fill="#5c5c5c" stroke="#000" stroke-width="0.85" />
<line x1="224.35" y1="64.28" x2="224.35" y2="62.32" stroke="#000" stroke-width="0.7" />
<line x1="222.15" y1="62.32" x2="226.55" y2="62.32" stroke="#000" stroke-width="0.7" />
<rect x="230.00" y="95.15" width="11.40" height="36.75" fill="#d6d6d6" stroke="#000" stroke-width="0.85" />
<line x1="235.70" y1="95.15" x2="235.70" y2="90.74" stroke="#000" stroke-width="0.7" />
<line x1="233.50" y1="90.74" x2="237.90" y2="90.74" stroke="#000" stroke-width="0.7" />
<text x="188.90" y="48.90" font-size="4.3" text-anchor="middle" font-weight="normal" font-style="normal" fill="#000"  style="stroke-width:0.05px">n=3</text>
<text x="200.50" y="52.00" font-size="4.3" text-anchor="middle" font-weight="normal" font-style="normal" fill="#000"  style="stroke-width:0.05px">n=3</text>
<text x="223.50" y="59.00" font-size="4.3" text-anchor="middle" font-weight="normal" font-style="normal" fill="#000"  style="stroke-width:0.05px">n=4</text>
<text x="236.50" y="87.90" font-size="4.3" text-anchor="middle" font-weight="normal" font-style="normal" fill="#000"  style="stroke-width:0.05px">n=4</text>
<polyline points="188.80,35.90 188.80,34.30 224.60,34.30 224.60,35.90" fill="none" stroke="#000" stroke-width="0.6"/>
<text x="206.70" y="32.60" font-size="4.3" text-anchor="middle" font-weight="normal" font-style="normal" fill="#000"  style="stroke-width:0.05px">p=0.009</text>
<polyline points="188.80,43.10 188.80,41.50 200.50,41.50 200.50,43.10" fill="none" stroke="#000" stroke-width="0.6"/>
<text x="193.00" y="39.60" font-size="4.3" text-anchor="middle" font-weight="normal" font-style="normal" fill="#000"  style="stroke-width:0.05px">p=0.14</text>
<polyline points="202.30,43.10 202.30,41.50 236.50,41.50 236.50,43.10" fill="none" stroke="#000" stroke-width="0.6"/>
<line x1="224.40" y1="41.50" x2="224.40" y2="40.00" stroke="#000" stroke-width="0.6" />
<text x="218.50" y="39.60" font-size="4.3" text-anchor="middle" font-weight="normal" font-style="normal" fill="#000"  style="stroke-width:0.05px">p&lt;0.001</text>
<polyline points="224.40,53.10 224.40,48.80 236.30,48.80 236.30,84.80" fill="none" stroke="#000" stroke-width="0.6"/>
<text x="231.00" y="47.00" font-size="4.3" text-anchor="middle" font-weight="normal" font-style="normal" fill="#000"  style="stroke-width:0.05px">p=0.01</text>
<text x="196.50" y="139.00" font-size="5.0" text-anchor="middle" font-style="italic" fill="#000">TRF1<tspan font-size="3.50" dy="-1.80" dx="0.60">flox/flox</tspan><tspan dy="1.80"></tspan></text>
<text x="196.50" y="145.60" font-size="5.0" text-anchor="middle" font-weight="normal" font-style="italic" fill="#000" >Mx1-wt</text>
<text x="230.80" y="139.00" font-size="5.0" text-anchor="middle" font-style="italic" fill="#000">TRF1<tspan font-size="3.50" dy="-1.80" dx="0.60">flox/flox</tspan><tspan dy="1.80"></tspan></text>
<text x="230.30" y="145.60" font-size="5.0" text-anchor="middle" font-weight="normal" font-style="italic" fill="#000" >Mx1-Cre</text>
<path d="M35.20,237.90 L35.20,236.68 L36.64,236.68 L36.64,236.41 L38.08,236.41 L38.08,236.08 L39.53,236.08 L39.53,235.70 L40.97,235.70 L40.97,235.24 L42.41,235.24 L42.41,234.69 L43.85,234.69 L43.85,234.07 L45.29,234.07 L45.29,233.36 L46.74,233.36 L46.74,232.60 L48.18,232.60 L48.18,231.79 L49.62,231.79 L49.62,230.89 L51.06,230.89 L51.06,229.91 L52.50,229.91 L52.50,228.96 L53.95,228.96 L53.95,228.04 L55.39,228.04 L55.39,226.89 L56.83,226.89 L56.83,225.54 L58.27,225.54 L58.27,224.18 L59.71,224.18 L59.71,222.82 L61.16,222.82 L61.16,221.32 L62.60,221.32 L62.60,219.69 L64.04,219.69 L64.04,218.06 L65.48,218.06 L65.48,216.43 L66.92,216.43 L66.92,214.67 L68.37,214.67 L68.37,212.76 L69.81,212.76 L69.81,211.00 L71.25,211.00 L71.25,209.37 L72.69,209.37 L72.69,207.46 L74.13,207.46 L74.13,205.29 L75.58,205.29 L75.58,203.12 L77.02,203.12 L77.02,200.94 L78.46,200.94 L78.46,198.41 L79.90,198.41 L79.90,195.51 L81.34,195.51 L81.34,192.61 L82.79,192.61 L82.79,190.21 L84.23,190.21 L84.23,188.31 L85.67,188.31 L85.67,186.54 L87.11,186.54 L87.11,184.91 L88.55,184.91 L88.55,184.37 L90.00,184.37 L90.00,186.27 L91.44,186.27 L91.44,189.80 L92.88,189.80 L92.88,193.60 L94.32,193.60 L94.32,197.95 L95.76,197.95 L95.76,202.84 L97.21,202.84 L97.21,208.42 L98.65,208.42 L98.65,214.67 L100.09,214.67 L100.09,220.24 L101.53,220.24 L101.53,225.13 L102.97,225.13 L102.97,229.20 L104.42,229.20 L104.42,232.47 L105.86,232.47 L105.86,234.93 L107.30,234.93 L107.30,236.60 L108.74,236.60 L108.74,237.25 L110.18,237.25 L110.18,237.66 L111.63,237.66 L111.63,237.82 L113.07,237.82 L113.07,237.90 L114.51,237.90 L114.51,237.90 L115.95,237.90 L115.95,237.90 L117.39,237.90 L117.39,237.90 L118.84,237.90 L118.84,237.90 L120.28,237.90 L120.28,237.90 L121.72,237.90 L121.72,237.90 L123.16,237.90 L123.16,237.90 L124.60,237.90 L124.60,237.90 Z" fill="#787878" stroke="#555" stroke-width="0.35"/>
<line x1="36.64" y1="237.90" x2="36.64" y2="236.68" stroke="#686868" stroke-width="0.4"/>
<line x1="38.08" y1="237.90" x2="38.08" y2="236.41" stroke="#686868" stroke-width="0.4"/>
<line x1="39.53" y1="237.90" x2="39.53" y2="236.08" stroke="#686868" stroke-width="0.4"/>
<line x1="40.97" y1="237.90" x2="40.97" y2="235.70" stroke="#686868" stroke-width="0.4"/>
<line x1="42.41" y1="237.90" x2="42.41" y2="235.24" stroke="#686868" stroke-width="0.4"/>
<line x1="43.85" y1="237.90" x2="43.85" y2="234.69" stroke="#686868" stroke-width="0.4"/>
<line x1="45.29" y1="237.90" x2="45.29" y2="234.07" stroke="#686868" stroke-width="0.4"/>
<line x1="46.74" y1="237.90" x2="46.74" y2="233.36" stroke="#686868" stroke-width="0.4"/>
<line x1="48.18" y1="237.90" x2="48.18" y2="232.60" stroke="#686868" stroke-width="0.4"/>
<line x1="49.62" y1="237.90" x2="49.62" y2="231.79" stroke="#686868" stroke-width="0.4"/>
<line x1="51.06" y1="237.90" x2="51.06" y2="230.89" stroke="#686868" stroke-width="0.4"/>
<line x1="52.50" y1="237.90" x2="52.50" y2="229.91" stroke="#686868" stroke-width="0.4"/>
<line x1="53.95" y1="237.90" x2="53.95" y2="228.96" stroke="#686868" stroke-width="0.4"/>
<line x1="55.39" y1="237.90" x2="55.39" y2="228.04" stroke="#686868" stroke-width="0.4"/>
<line x1="56.83" y1="237.90" x2="56.83" y2="226.89" stroke="#686868" stroke-width="0.4"/>
<line x1="58.27" y1="237.90" x2="58.27" y2="225.54" stroke="#686868" stroke-width="0.4"/>
<line x1="59.71" y1="237.90" x2="59.71" y2="224.18" stroke="#686868" stroke-width="0.4"/>
<line x1="61.16" y1="237.90" x2="61.16" y2="222.82" stroke="#686868" stroke-width="0.4"/>
<line x1="62.60" y1="237.90" x2="62.60" y2="221.32" stroke="#686868" stroke-width="0.4"/>
<line x1="64.04" y1="237.90" x2="64.04" y2="219.69" stroke="#686868" stroke-width="0.4"/>
<line x1="65.48" y1="237.90" x2="65.48" y2="218.06" stroke="#686868" stroke-width="0.4"/>
<line x1="66.92" y1="237.90" x2="66.92" y2="216.43" stroke="#686868" stroke-width="0.4"/>
<line x1="68.37" y1="237.90" x2="68.37" y2="214.67" stroke="#686868" stroke-width="0.4"/>
<line x1="69.81" y1="237.90" x2="69.81" y2="212.76" stroke="#686868" stroke-width="0.4"/>
<line x1="71.25" y1="237.90" x2="71.25" y2="211.00" stroke="#686868" stroke-width="0.4"/>
<line x1="72.69" y1="237.90" x2="72.69" y2="209.37" stroke="#686868" stroke-width="0.4"/>
<line x1="74.13" y1="237.90" x2="74.13" y2="207.46" stroke="#686868" stroke-width="0.4"/>
<line x1="75.58" y1="237.90" x2="75.58" y2="205.29" stroke="#686868" stroke-width="0.4"/>
<line x1="77.02" y1="237.90" x2="77.02" y2="203.12" stroke="#686868" stroke-width="0.4"/>
<line x1="78.46" y1="237.90" x2="78.46" y2="200.94" stroke="#686868" stroke-width="0.4"/>
<line x1="79.90" y1="237.90" x2="79.90" y2="198.41" stroke="#686868" stroke-width="0.4"/>
<line x1="81.34" y1="237.90" x2="81.34" y2="195.51" stroke="#686868" stroke-width="0.4"/>
<line x1="82.79" y1="237.90" x2="82.79" y2="192.61" stroke="#686868" stroke-width="0.4"/>
<line x1="84.23" y1="237.90" x2="84.23" y2="190.21" stroke="#686868" stroke-width="0.4"/>
<line x1="85.67" y1="237.90" x2="85.67" y2="188.31" stroke="#686868" stroke-width="0.4"/>
<line x1="87.11" y1="237.90" x2="87.11" y2="186.54" stroke="#686868" stroke-width="0.4"/>
<line x1="88.55" y1="237.90" x2="88.55" y2="184.91" stroke="#686868" stroke-width="0.4"/>
<line x1="90.00" y1="237.90" x2="90.00" y2="186.27" stroke="#686868" stroke-width="0.4"/>
<line x1="91.44" y1="237.90" x2="91.44" y2="189.80" stroke="#686868" stroke-width="0.4"/>
<line x1="92.88" y1="237.90" x2="92.88" y2="193.60" stroke="#686868" stroke-width="0.4"/>
<line x1="94.32" y1="237.90" x2="94.32" y2="197.95" stroke="#686868" stroke-width="0.4"/>
<line x1="95.76" y1="237.90" x2="95.76" y2="202.84" stroke="#686868" stroke-width="0.4"/>
<line x1="97.21" y1="237.90" x2="97.21" y2="208.42" stroke="#686868" stroke-width="0.4"/>
<line x1="98.65" y1="237.90" x2="98.65" y2="214.67" stroke="#686868" stroke-width="0.4"/>
<line x1="100.09" y1="237.90" x2="100.09" y2="220.24" stroke="#686868" stroke-width="0.4"/>
<line x1="101.53" y1="237.90" x2="101.53" y2="225.13" stroke="#686868" stroke-width="0.4"/>
<line x1="102.97" y1="237.90" x2="102.97" y2="229.20" stroke="#686868" stroke-width="0.4"/>
<line x1="104.42" y1="237.90" x2="104.42" y2="232.47" stroke="#686868" stroke-width="0.4"/>
<line x1="105.86" y1="237.90" x2="105.86" y2="234.93" stroke="#686868" stroke-width="0.4"/>
<line x1="107.30" y1="237.90" x2="107.30" y2="236.60" stroke="#686868" stroke-width="0.4"/>
<line x1="80.62" y1="237.90" x2="80.62" y2="195.51" stroke="#7a1010" stroke-width="1.2"/>
<line x1="45.40" y1="237.90" x2="45.40" y2="172.68" stroke="#111" stroke-width="0.8" stroke-dasharray="1.5,1.3"/>
<line x1="57.10" y1="237.90" x2="57.10" y2="172.68" stroke="#111" stroke-width="0.8" stroke-dasharray="1.5,1.3"/>
<line x1="34.20" y1="172.68" x2="34.20" y2="238.20" stroke="#000" stroke-width="0.7" />
<line x1="33.90" y1="237.90" x2="126.77" y2="237.90" stroke="#000" stroke-width="0.7" />
<line x1="32.40" y1="237.90" x2="34.20" y2="237.90" stroke="#000" stroke-width="0.6" />
<text x="31.00" y="239.50" font-size="4.6" text-anchor="end" font-weight="normal" font-style="normal" fill="#000" >0</text>
<line x1="32.40" y1="216.16" x2="34.20" y2="216.16" stroke="#000" stroke-width="0.6" />
<text x="31.00" y="217.76" font-size="4.6" text-anchor="end" font-weight="normal" font-style="normal" fill="#000" >2</text>
<line x1="32.40" y1="194.42" x2="34.20" y2="194.42" stroke="#000" stroke-width="0.6" />
<text x="31.00" y="196.02" font-size="4.6" text-anchor="end" font-weight="normal" font-style="normal" fill="#000" >4</text>
<line x1="32.40" y1="172.68" x2="34.20" y2="172.68" stroke="#000" stroke-width="0.6" />
<text x="31.00" y="174.28" font-size="4.6" text-anchor="end" font-weight="normal" font-style="normal" fill="#000" >6</text>
<line x1="35.20" y1="237.90" x2="35.20" y2="239.70" stroke="#000" stroke-width="0.6" />
<text x="35.20" y="245.30" font-size="4.8" text-anchor="middle" font-weight="normal" font-style="normal" fill="#000" >0</text>
<line x1="49.62" y1="237.90" x2="49.62" y2="239.70" stroke="#000" stroke-width="0.6" />
<text x="49.62" y="245.30" font-size="4.8" text-anchor="middle" font-weight="normal" font-style="normal" fill="#000" >10</text>
<line x1="64.04" y1="237.90" x2="64.04" y2="239.70" stroke="#000" stroke-width="0.6" />
<text x="64.04" y="245.30" font-size="4.8" text-anchor="middle" font-weight="normal" font-style="normal" fill="#000" >20</text>
<line x1="78.46" y1="237.90" x2="78.46" y2="239.70" stroke="#000" stroke-width="0.6" />
<text x="78.46" y="245.30" font-size="4.8" text-anchor="middle" font-weight="normal" font-style="normal" fill="#000" >30</text>
<line x1="92.88" y1="237.90" x2="92.88" y2="239.70" stroke="#000" stroke-width="0.6" />
<text x="92.88" y="245.30" font-size="4.8" text-anchor="middle" font-weight="normal" font-style="normal" fill="#000" >40</text>
<line x1="107.30" y1="237.90" x2="107.30" y2="239.70" stroke="#000" stroke-width="0.6" />
<text x="107.30" y="245.30" font-size="4.8" text-anchor="middle" font-weight="normal" font-style="normal" fill="#000" >50</text>
<line x1="121.72" y1="237.90" x2="121.72" y2="239.70" stroke="#000" stroke-width="0.6" />
<text x="121.72" y="245.30" font-size="4.8" text-anchor="middle" font-weight="normal" font-style="normal" fill="#000" >60</text>
<text x="81.06" y="251.50" font-size="4.95" text-anchor="middle" font-weight="normal" font-style="normal" fill="#000" >Telomere length in kb</text>
<text transform="translate(23.80,204.20) rotate(-90)" font-size="5.2" text-anchor="middle">Percentage</text>
<text x="123.22" y="177.48" font-size="4.1" text-anchor="end" font-weight="normal" font-style="normal" fill="#000"  style="stroke-width:0.05px">59341 Tel, n=5, mean=32.83 kb</text>
<text x="123.22" y="182.13" font-size="4.1" text-anchor="end" font-weight="normal" font-style="normal" fill="#000"  style="stroke-width:0.05px">&lt;7.5kb=0.72%</text>
<text x="123.22" y="186.78" font-size="4.1" text-anchor="end" font-weight="normal" font-style="normal" fill="#000"  style="stroke-width:0.05px">&lt;15kb=4.1%</text>
<text x="123.22" y="191.43" font-size="4.1" text-anchor="end" font-weight="normal" font-style="normal" fill="#000"  style="stroke-width:0.05px">&gt;40kb=5.7%</text>
<path d="M154.00,238.00 L154.00,236.48 L155.43,236.48 L155.43,235.61 L156.85,235.61 L156.85,234.75 L158.28,234.75 L158.28,233.88 L159.70,233.88 L159.70,233.01 L161.12,233.01 L161.12,231.82 L162.55,231.82 L162.55,230.30 L163.97,230.30 L163.97,228.78 L165.40,228.78 L165.40,226.82 L166.82,226.82 L166.82,224.87 L168.25,224.87 L168.25,223.24 L169.68,223.24 L169.68,221.94 L171.10,221.94 L171.10,220.64 L172.53,220.64 L172.53,219.34 L173.95,219.34 L173.95,218.04 L175.38,218.04 L175.38,216.73 L176.80,216.73 L176.80,215.43 L178.22,215.43 L178.22,214.13 L179.65,214.13 L179.65,212.83 L181.07,212.83 L181.07,211.53 L182.50,211.53 L182.50,210.55 L183.93,210.55 L183.93,209.90 L185.35,209.90 L185.35,209.25 L186.78,209.25 L186.78,208.60 L188.20,208.60 L188.20,207.95 L189.62,207.95 L189.62,207.57 L191.05,207.57 L191.05,207.46 L192.47,207.46 L192.47,207.35 L193.90,207.35 L193.90,207.24 L195.32,207.24 L195.32,207.13 L196.75,207.13 L196.75,207.13 L198.18,207.13 L198.18,207.24 L199.60,207.24 L199.60,207.35 L201.03,207.35 L201.03,207.46 L202.45,207.46 L202.45,207.57 L203.88,207.57 L203.88,207.84 L205.30,207.84 L205.30,208.27 L206.72,208.27 L206.72,208.70 L208.15,208.70 L208.15,209.14 L209.57,209.14 L209.57,209.57 L211.00,209.57 L211.00,210.33 L212.43,210.33 L212.43,211.42 L213.85,211.42 L213.85,212.50 L215.28,212.50 L215.28,213.59 L216.70,213.59 L216.70,214.67 L218.12,214.67 L218.12,216.30 L219.55,216.30 L219.55,218.47 L220.98,218.47 L220.98,220.64 L222.40,220.64 L222.40,223.22 L223.82,223.22 L223.82,226.20 L225.25,226.20 L225.25,228.69 L226.68,228.69 L226.68,230.68 L228.10,230.68 L228.10,232.67 L229.53,232.67 L229.53,234.34 L230.95,234.34 L230.95,235.69 L232.38,235.69 L232.38,236.55 L233.80,236.55 L233.80,236.91 L235.23,236.91 L235.23,237.28 L236.65,237.28 L236.65,237.59 L238.07,237.59 L238.07,237.86 L239.50,237.86 L239.50,238.00 L240.93,238.00 L240.93,238.00 L242.35,238.00 L242.35,238.00 Z" fill="#787878" stroke="#555" stroke-width="0.35"/>
<line x1="155.43" y1="238.00" x2="155.43" y2="236.48" stroke="#686868" stroke-width="0.4"/>
<line x1="156.85" y1="238.00" x2="156.85" y2="235.61" stroke="#686868" stroke-width="0.4"/>
<line x1="158.28" y1="238.00" x2="158.28" y2="234.75" stroke="#686868" stroke-width="0.4"/>
<line x1="159.70" y1="238.00" x2="159.70" y2="233.88" stroke="#686868" stroke-width="0.4"/>
<line x1="161.12" y1="238.00" x2="161.12" y2="233.01" stroke="#686868" stroke-width="0.4"/>
<line x1="162.55" y1="238.00" x2="162.55" y2="231.82" stroke="#686868" stroke-width="0.4"/>
<line x1="163.97" y1="238.00" x2="163.97" y2="230.30" stroke="#686868" stroke-width="0.4"/>
<line x1="165.40" y1="238.00" x2="165.40" y2="228.78" stroke="#686868" stroke-width="0.4"/>
<line x1="166.82" y1="238.00" x2="166.82" y2="226.82" stroke="#686868" stroke-width="0.4"/>
<line x1="168.25" y1="238.00" x2="168.25" y2="224.87" stroke="#686868" stroke-width="0.4"/>
<line x1="169.68" y1="238.00" x2="169.68" y2="223.24" stroke="#686868" stroke-width="0.4"/>
<line x1="171.10" y1="238.00" x2="171.10" y2="221.94" stroke="#686868" stroke-width="0.4"/>
<line x1="172.53" y1="238.00" x2="172.53" y2="220.64" stroke="#686868" stroke-width="0.4"/>
<line x1="173.95" y1="238.00" x2="173.95" y2="219.34" stroke="#686868" stroke-width="0.4"/>
<line x1="175.38" y1="238.00" x2="175.38" y2="218.04" stroke="#686868" stroke-width="0.4"/>
<line x1="176.80" y1="238.00" x2="176.80" y2="216.73" stroke="#686868" stroke-width="0.4"/>
<line x1="178.22" y1="238.00" x2="178.22" y2="215.43" stroke="#686868" stroke-width="0.4"/>
<line x1="179.65" y1="238.00" x2="179.65" y2="214.13" stroke="#686868" stroke-width="0.4"/>
<line x1="181.07" y1="238.00" x2="181.07" y2="212.83" stroke="#686868" stroke-width="0.4"/>
<line x1="182.50" y1="238.00" x2="182.50" y2="211.53" stroke="#686868" stroke-width="0.4"/>
<line x1="183.93" y1="238.00" x2="183.93" y2="210.55" stroke="#686868" stroke-width="0.4"/>
<line x1="185.35" y1="238.00" x2="185.35" y2="209.90" stroke="#686868" stroke-width="0.4"/>
<line x1="186.78" y1="238.00" x2="186.78" y2="209.25" stroke="#686868" stroke-width="0.4"/>
<line x1="188.20" y1="238.00" x2="188.20" y2="208.60" stroke="#686868" stroke-width="0.4"/>
<line x1="189.62" y1="238.00" x2="189.62" y2="207.95" stroke="#686868" stroke-width="0.4"/>
<line x1="191.05" y1="238.00" x2="191.05" y2="207.57" stroke="#686868" stroke-width="0.4"/>
<line x1="192.47" y1="238.00" x2="192.47" y2="207.46" stroke="#686868" stroke-width="0.4"/>
<line x1="193.90" y1="238.00" x2="193.90" y2="207.35" stroke="#686868" stroke-width="0.4"/>
<line x1="195.32" y1="238.00" x2="195.32" y2="207.24" stroke="#686868" stroke-width="0.4"/>
<line x1="196.75" y1="238.00" x2="196.75" y2="207.13" stroke="#686868" stroke-width="0.4"/>
<line x1="198.18" y1="238.00" x2="198.18" y2="207.24" stroke="#686868" stroke-width="0.4"/>
<line x1="199.60" y1="238.00" x2="199.60" y2="207.35" stroke="#686868" stroke-width="0.4"/>
<line x1="201.03" y1="238.00" x2="201.03" y2="207.46" stroke="#686868" stroke-width="0.4"/>
<line x1="202.45" y1="238.00" x2="202.45" y2="207.57" stroke="#686868" stroke-width="0.4"/>
<line x1="203.88" y1="238.00" x2="203.88" y2="207.84" stroke="#686868" stroke-width="0.4"/>
<line x1="205.30" y1="238.00" x2="205.30" y2="208.27" stroke="#686868" stroke-width="0.4"/>
<line x1="206.72" y1="238.00" x2="206.72" y2="208.70" stroke="#686868" stroke-width="0.4"/>
<line x1="208.15" y1="238.00" x2="208.15" y2="209.14" stroke="#686868" stroke-width="0.4"/>
<line x1="209.57" y1="238.00" x2="209.57" y2="209.57" stroke="#686868" stroke-width="0.4"/>
<line x1="211.00" y1="238.00" x2="211.00" y2="210.33" stroke="#686868" stroke-width="0.4"/>
<line x1="212.43" y1="238.00" x2="212.43" y2="211.42" stroke="#686868" stroke-width="0.4"/>
<line x1="213.85" y1="238.00" x2="213.85" y2="212.50" stroke="#686868" stroke-width="0.4"/>
<line x1="215.28" y1="238.00" x2="215.28" y2="213.59" stroke="#686868" stroke-width="0.4"/>
<line x1="216.70" y1="238.00" x2="216.70" y2="214.67" stroke="#686868" stroke-width="0.4"/>
<line x1="218.12" y1="238.00" x2="218.12" y2="216.30" stroke="#686868" stroke-width="0.4"/>
<line x1="219.55" y1="238.00" x2="219.55" y2="218.47" stroke="#686868" stroke-width="0.4"/>
<line x1="220.98" y1="238.00" x2="220.98" y2="220.64" stroke="#686868" stroke-width="0.4"/>
<line x1="222.40" y1="238.00" x2="222.40" y2="223.22" stroke="#686868" stroke-width="0.4"/>
<line x1="223.82" y1="238.00" x2="223.82" y2="226.20" stroke="#686868" stroke-width="0.4"/>
<line x1="225.25" y1="238.00" x2="225.25" y2="228.69" stroke="#686868" stroke-width="0.4"/>
<line x1="226.68" y1="238.00" x2="226.68" y2="230.68" stroke="#686868" stroke-width="0.4"/>
<line x1="228.10" y1="238.00" x2="228.10" y2="232.67" stroke="#686868" stroke-width="0.4"/>
<line x1="229.53" y1="238.00" x2="229.53" y2="234.34" stroke="#686868" stroke-width="0.4"/>
<line x1="230.95" y1="238.00" x2="230.95" y2="235.69" stroke="#686868" stroke-width="0.4"/>
<line x1="232.38" y1="238.00" x2="232.38" y2="236.55" stroke="#686868" stroke-width="0.4"/>
<line x1="233.80" y1="238.00" x2="233.80" y2="236.91" stroke="#686868" stroke-width="0.4"/>
<line x1="193.62" y1="238.00" x2="193.62" y2="207.32" stroke="#7a1010" stroke-width="1.2"/>
<line x1="163.40" y1="238.00" x2="163.40" y2="172.90" stroke="#111" stroke-width="0.8" stroke-dasharray="1.5,1.3"/>
<line x1="175.50" y1="238.00" x2="175.50" y2="172.90" stroke="#111" stroke-width="0.8" stroke-dasharray="1.5,1.3"/>
<line x1="153.00" y1="172.90" x2="153.00" y2="238.30" stroke="#000" stroke-width="0.7" />
<line x1="152.70" y1="238.00" x2="244.49" y2="238.00" stroke="#000" stroke-width="0.7" />
<line x1="151.20" y1="238.00" x2="153.00" y2="238.00" stroke="#000" stroke-width="0.6" />
<text x="149.80" y="239.60" font-size="4.6" text-anchor="end" font-weight="normal" font-style="normal" fill="#000" >0</text>
<line x1="151.20" y1="216.30" x2="153.00" y2="216.30" stroke="#000" stroke-width="0.6" />
<text x="149.80" y="217.90" font-size="4.6" text-anchor="end" font-weight="normal" font-style="normal" fill="#000" >2</text>
<line x1="151.20" y1="194.60" x2="153.00" y2="194.60" stroke="#000" stroke-width="0.6" />
<text x="149.80" y="196.20" font-size="4.6" text-anchor="end" font-weight="normal" font-style="normal" fill="#000" >4</text>
<line x1="151.20" y1="172.90" x2="153.00" y2="172.90" stroke="#000" stroke-width="0.6" />
<text x="149.80" y="174.50" font-size="4.6" text-anchor="end" font-weight="normal" font-style="normal" fill="#000" >6</text>
<line x1="154.00" y1="238.00" x2="154.00" y2="239.80" stroke="#000" stroke-width="0.6" />
<text x="154.00" y="245.40" font-size="4.8" text-anchor="middle" font-weight="normal" font-style="normal" fill="#000" >0</text>
<line x1="168.25" y1="238.00" x2="168.25" y2="239.80" stroke="#000" stroke-width="0.6" />
<text x="168.25" y="245.40" font-size="4.8" text-anchor="middle" font-weight="normal" font-style="normal" fill="#000" >10</text>
<line x1="182.50" y1="238.00" x2="182.50" y2="239.80" stroke="#000" stroke-width="0.6" />
<text x="182.50" y="245.40" font-size="4.8" text-anchor="middle" font-weight="normal" font-style="normal" fill="#000" >20</text>
<line x1="196.75" y1="238.00" x2="196.75" y2="239.80" stroke="#000" stroke-width="0.6" />
<text x="196.75" y="245.40" font-size="4.8" text-anchor="middle" font-weight="normal" font-style="normal" fill="#000" >30</text>
<line x1="211.00" y1="238.00" x2="211.00" y2="239.80" stroke="#000" stroke-width="0.6" />
<text x="211.00" y="245.40" font-size="4.8" text-anchor="middle" font-weight="normal" font-style="normal" fill="#000" >40</text>
<line x1="225.25" y1="238.00" x2="225.25" y2="239.80" stroke="#000" stroke-width="0.6" />
<text x="225.25" y="245.40" font-size="4.8" text-anchor="middle" font-weight="normal" font-style="normal" fill="#000" >50</text>
<line x1="239.50" y1="238.00" x2="239.50" y2="239.80" stroke="#000" stroke-width="0.6" />
<text x="239.50" y="245.40" font-size="4.8" text-anchor="middle" font-weight="normal" font-style="normal" fill="#000" >60</text>
<text x="199.31" y="251.60" font-size="4.95" text-anchor="middle" font-weight="normal" font-style="normal" fill="#000" >Telomere length in kb</text>
<text transform="translate(141.80,204.37) rotate(-90)" font-size="5.2" text-anchor="middle">Percentage</text>
<text x="241.00" y="177.70" font-size="4.1" text-anchor="end" font-weight="normal" font-style="normal" fill="#000"  style="stroke-width:0.05px">59726 Tel, n=4, mean=28.46 kb</text>
<text x="241.00" y="182.35" font-size="4.1" text-anchor="end" font-weight="normal" font-style="normal" fill="#000"  style="stroke-width:0.05px">&lt;7.5kb=2.6%</text>
<text x="241.00" y="187.00" font-size="4.1" text-anchor="end" font-weight="normal" font-style="normal" fill="#000"  style="stroke-width:0.05px">&lt;15kb=12.3%</text>
<text x="241.00" y="191.65" font-size="4.1" text-anchor="end" font-weight="normal" font-style="normal" fill="#000"  style="stroke-width:0.05px">&gt;40kb=7.2%</text>
<path d="M35.30,325.50 L35.30,324.26 L36.72,324.26 L36.72,323.93 L38.14,323.93 L38.14,323.61 L39.56,323.61 L39.56,323.28 L40.98,323.28 L40.98,322.96 L42.40,322.96 L42.40,322.47 L43.82,322.47 L43.82,321.82 L45.24,321.82 L45.24,321.17 L46.66,321.17 L46.66,320.31 L48.08,320.31 L48.08,319.44 L49.50,319.44 L49.50,318.20 L50.92,318.20 L50.92,316.57 L52.34,316.57 L52.34,314.95 L53.76,314.95 L53.76,313.33 L55.18,313.33 L55.18,311.70 L56.60,311.70 L56.60,310.30 L58.02,310.30 L58.02,309.11 L59.44,309.11 L59.44,307.92 L60.86,307.92 L60.86,306.73 L62.28,306.73 L62.28,305.54 L63.70,305.54 L63.70,304.29 L65.12,304.29 L65.12,302.99 L66.54,302.99 L66.54,301.70 L67.96,301.70 L67.96,300.40 L69.38,300.40 L69.38,299.10 L70.80,299.10 L70.80,298.00 L72.22,298.00 L72.22,297.10 L73.64,297.10 L73.64,296.20 L75.06,296.20 L75.06,294.39 L76.48,294.39 L76.48,293.58 L77.90,293.58 L77.90,293.85 L79.32,293.85 L79.32,293.31 L80.74,293.31 L80.74,292.50 L82.16,292.50 L82.16,291.42 L83.58,291.42 L83.58,290.33 L85.00,290.33 L85.00,288.89 L86.42,288.89 L86.42,287.09 L87.84,287.09 L87.84,285.29 L89.26,285.29 L89.26,285.06 L90.68,285.06 L90.68,286.41 L92.10,286.41 L92.10,288.71 L93.52,288.71 L93.52,291.96 L94.94,291.96 L94.94,295.47 L96.36,295.47 L96.36,299.26 L97.78,299.26 L97.78,303.05 L99.20,303.05 L99.20,306.84 L100.62,306.84 L100.62,310.62 L102.04,310.62 L102.04,314.41 L103.46,314.41 L103.46,317.52 L104.88,317.52 L104.88,319.95 L106.30,319.95 L106.30,321.85 L107.72,321.85 L107.72,323.20 L109.14,323.20 L109.14,324.09 L110.56,324.09 L110.56,324.53 L111.98,324.53 L111.98,324.96 L113.40,324.96 L113.40,325.26 L114.82,325.26 L114.82,325.42 L116.24,325.42 L116.24,325.50 L117.66,325.50 L117.66,325.50 L119.08,325.50 L119.08,325.50 L120.50,325.50 L120.50,325.50 L121.92,325.50 L121.92,325.50 L123.34,325.50 L123.34,325.50 Z" fill="#787878" stroke="#555" stroke-width="0.35"/>
<line x1="36.72" y1="325.50" x2="36.72" y2="324.26" stroke="#686868" stroke-width="0.4"/>
<line x1="38.14" y1="325.50" x2="38.14" y2="323.93" stroke="#686868" stroke-width="0.4"/>
<line x1="39.56" y1="325.50" x2="39.56" y2="323.61" stroke="#686868" stroke-width="0.4"/>
<line x1="40.98" y1="325.50" x2="40.98" y2="323.28" stroke="#686868" stroke-width="0.4"/>
<line x1="42.40" y1="325.50" x2="42.40" y2="322.96" stroke="#686868" stroke-width="0.4"/>
<line x1="43.82" y1="325.50" x2="43.82" y2="322.47" stroke="#686868" stroke-width="0.4"/>
<line x1="45.24" y1="325.50" x2="45.24" y2="321.82" stroke="#686868" stroke-width="0.4"/>
<line x1="46.66" y1="325.50" x2="46.66" y2="321.17" stroke="#686868" stroke-width="0.4"/>
<line x1="48.08" y1="325.50" x2="48.08" y2="320.31" stroke="#686868" stroke-width="0.4"/>
<line x1="49.50" y1="325.50" x2="49.50" y2="319.44" stroke="#686868" stroke-width="0.4"/>
<line x1="50.92" y1="325.50" x2="50.92" y2="318.20" stroke="#686868" stroke-width="0.4"/>
<line x1="52.34" y1="325.50" x2="52.34" y2="316.57" stroke="#686868" stroke-width="0.4"/>
<line x1="53.76" y1="325.50" x2="53.76" y2="314.95" stroke="#686868" stroke-width="0.4"/>
<line x1="55.18" y1="325.50" x2="55.18" y2="313.33" stroke="#686868" stroke-width="0.4"/>
<line x1="56.60" y1="325.50" x2="56.60" y2="311.70" stroke="#686868" stroke-width="0.4"/>
<line x1="58.02" y1="325.50" x2="58.02" y2="310.30" stroke="#686868" stroke-width="0.4"/>
<line x1="59.44" y1="325.50" x2="59.44" y2="309.11" stroke="#686868" stroke-width="0.4"/>
<line x1="60.86" y1="325.50" x2="60.86" y2="307.92" stroke="#686868" stroke-width="0.4"/>
<line x1="62.28" y1="325.50" x2="62.28" y2="306.73" stroke="#686868" stroke-width="0.4"/>
<line x1="63.70" y1="325.50" x2="63.70" y2="305.54" stroke="#686868" stroke-width="0.4"/>
<line x1="65.12" y1="325.50" x2="65.12" y2="304.29" stroke="#686868" stroke-width="0.4"/>
<line x1="66.54" y1="325.50" x2="66.54" y2="302.99" stroke="#686868" stroke-width="0.4"/>
<line x1="67.96" y1="325.50" x2="67.96" y2="301.70" stroke="#686868" stroke-width="0.4"/>
<line x1="69.38" y1="325.50" x2="69.38" y2="300.40" stroke="#686868" stroke-width="0.4"/>
<line x1="70.80" y1="325.50" x2="70.80" y2="299.10" stroke="#686868" stroke-width="0.4"/>
<line x1="72.22" y1="325.50" x2="72.22" y2="298.00" stroke="#686868" stroke-width="0.4"/>
<line x1="73.64" y1="325.50" x2="73.64" y2="297.10" stroke="#686868" stroke-width="0.4"/>
<line x1="75.06" y1="325.50" x2="75.06" y2="296.20" stroke="#686868" stroke-width="0.4"/>
<line x1="76.48" y1="325.50" x2="76.48" y2="294.39" stroke="#686868" stroke-width="0.4"/>
<line x1="77.90" y1="325.50" x2="77.90" y2="293.85" stroke="#686868" stroke-width="0.4"/>
<line x1="79.32" y1="325.50" x2="79.32" y2="293.85" stroke="#686868" stroke-width="0.4"/>
<line x1="80.74" y1="325.50" x2="80.74" y2="293.31" stroke="#686868" stroke-width="0.4"/>
<line x1="82.16" y1="325.50" x2="82.16" y2="292.50" stroke="#686868" stroke-width="0.4"/>
<line x1="83.58" y1="325.50" x2="83.58" y2="291.42" stroke="#686868" stroke-width="0.4"/>
<line x1="85.00" y1="325.50" x2="85.00" y2="290.33" stroke="#686868" stroke-width="0.4"/>
<line x1="86.42" y1="325.50" x2="86.42" y2="288.89" stroke="#686868" stroke-width="0.4"/>
<line x1="87.84" y1="325.50" x2="87.84" y2="287.09" stroke="#686868" stroke-width="0.4"/>
<line x1="89.26" y1="325.50" x2="89.26" y2="285.29" stroke="#686868" stroke-width="0.4"/>
<line x1="90.68" y1="325.50" x2="90.68" y2="286.41" stroke="#686868" stroke-width="0.4"/>
<line x1="92.10" y1="325.50" x2="92.10" y2="288.71" stroke="#686868" stroke-width="0.4"/>
<line x1="93.52" y1="325.50" x2="93.52" y2="291.96" stroke="#686868" stroke-width="0.4"/>
<line x1="94.94" y1="325.50" x2="94.94" y2="295.47" stroke="#686868" stroke-width="0.4"/>
<line x1="96.36" y1="325.50" x2="96.36" y2="299.26" stroke="#686868" stroke-width="0.4"/>
<line x1="97.78" y1="325.50" x2="97.78" y2="303.05" stroke="#686868" stroke-width="0.4"/>
<line x1="99.20" y1="325.50" x2="99.20" y2="306.84" stroke="#686868" stroke-width="0.4"/>
<line x1="100.62" y1="325.50" x2="100.62" y2="310.62" stroke="#686868" stroke-width="0.4"/>
<line x1="102.04" y1="325.50" x2="102.04" y2="314.41" stroke="#686868" stroke-width="0.4"/>
<line x1="103.46" y1="325.50" x2="103.46" y2="317.52" stroke="#686868" stroke-width="0.4"/>
<line x1="104.88" y1="325.50" x2="104.88" y2="319.95" stroke="#686868" stroke-width="0.4"/>
<line x1="106.30" y1="325.50" x2="106.30" y2="321.85" stroke="#686868" stroke-width="0.4"/>
<line x1="107.72" y1="325.50" x2="107.72" y2="323.20" stroke="#686868" stroke-width="0.4"/>
<line x1="109.14" y1="325.50" x2="109.14" y2="324.09" stroke="#686868" stroke-width="0.4"/>
<line x1="110.56" y1="325.50" x2="110.56" y2="324.53" stroke="#686868" stroke-width="0.4"/>
<line x1="77.19" y1="325.50" x2="77.19" y2="293.58" stroke="#7a1010" stroke-width="1.2"/>
<line x1="45.50" y1="325.50" x2="45.50" y2="260.58" stroke="#111" stroke-width="0.8" stroke-dasharray="1.5,1.3"/>
<line x1="57.10" y1="325.50" x2="57.10" y2="260.58" stroke="#111" stroke-width="0.8" stroke-dasharray="1.5,1.3"/>
<line x1="34.30" y1="260.58" x2="34.30" y2="325.80" stroke="#000" stroke-width="0.7" />
<line x1="34.00" y1="325.50" x2="125.47" y2="325.50" stroke="#000" stroke-width="0.7" />
<line x1="32.50" y1="325.50" x2="34.30" y2="325.50" stroke="#000" stroke-width="0.6" />
<text x="31.10" y="327.10" font-size="4.6" text-anchor="end" font-weight="normal" font-style="normal" fill="#000" >0</text>
<line x1="32.50" y1="303.86" x2="34.30" y2="303.86" stroke="#000" stroke-width="0.6" />
<text x="31.10" y="305.46" font-size="4.6" text-anchor="end" font-weight="normal" font-style="normal" fill="#000" >2</text>
<line x1="32.50" y1="282.22" x2="34.30" y2="282.22" stroke="#000" stroke-width="0.6" />
<text x="31.10" y="283.82" font-size="4.6" text-anchor="end" font-weight="normal" font-style="normal" fill="#000" >4</text>
<line x1="32.50" y1="260.58" x2="34.30" y2="260.58" stroke="#000" stroke-width="0.6" />
<text x="31.10" y="262.18" font-size="4.6" text-anchor="end" font-weight="normal" font-style="normal" fill="#000" >6</text>
<line x1="35.30" y1="325.50" x2="35.30" y2="327.30" stroke="#000" stroke-width="0.6" />
<text x="35.30" y="332.90" font-size="4.8" text-anchor="middle" font-weight="normal" font-style="normal" fill="#000" >0</text>
<line x1="49.50" y1="325.50" x2="49.50" y2="327.30" stroke="#000" stroke-width="0.6" />
<text x="49.50" y="332.90" font-size="4.8" text-anchor="middle" font-weight="normal" font-style="normal" fill="#000" >10</text>
<line x1="63.70" y1="325.50" x2="63.70" y2="327.30" stroke="#000" stroke-width="0.6" />
<text x="63.70" y="332.90" font-size="4.8" text-anchor="middle" font-weight="normal" font-style="normal" fill="#000" >20</text>
<line x1="77.90" y1="325.50" x2="77.90" y2="327.30" stroke="#000" stroke-width="0.6" />
<text x="77.90" y="332.90" font-size="4.8" text-anchor="middle" font-weight="normal" font-style="normal" fill="#000" >30</text>
<line x1="92.10" y1="325.50" x2="92.10" y2="327.30" stroke="#000" stroke-width="0.6" />
<text x="92.10" y="332.90" font-size="4.8" text-anchor="middle" font-weight="normal" font-style="normal" fill="#000" >40</text>
<line x1="106.30" y1="325.50" x2="106.30" y2="327.30" stroke="#000" stroke-width="0.6" />
<text x="106.30" y="332.90" font-size="4.8" text-anchor="middle" font-weight="normal" font-style="normal" fill="#000" >50</text>
<line x1="120.50" y1="325.50" x2="120.50" y2="327.30" stroke="#000" stroke-width="0.6" />
<text x="120.50" y="332.90" font-size="4.8" text-anchor="middle" font-weight="normal" font-style="normal" fill="#000" >60</text>
<text x="80.46" y="339.10" font-size="4.95" text-anchor="middle" font-weight="normal" font-style="normal" fill="#000" >Telomere length in kb</text>
<text transform="translate(23.80,291.96) rotate(-90)" font-size="5.2" text-anchor="middle">Percentage</text>
<text x="122.00" y="265.38" font-size="4.1" text-anchor="end" font-weight="normal" font-style="normal" fill="#000"  style="stroke-width:0.05px">86659 Tel, n=3, mean=30.71 kb</text>
<text x="122.00" y="270.03" font-size="4.1" text-anchor="end" font-weight="normal" font-style="normal" fill="#000"  style="stroke-width:0.05px">&lt;7.5kb=2.2%</text>
<text x="122.00" y="274.68" font-size="4.1" text-anchor="end" font-weight="normal" font-style="normal" fill="#000"  style="stroke-width:0.05px">&lt;15kb=8.0%</text>
<text x="122.00" y="279.33" font-size="4.1" text-anchor="end" font-weight="normal" font-style="normal" fill="#000"  style="stroke-width:0.05px">&gt;40kb=6.2%</text>
<path d="M154.50,325.50 L154.50,290.33 L155.92,290.33 L155.92,285.20 L157.34,285.20 L157.34,280.33 L158.76,280.33 L158.76,280.33 L160.18,280.33 L160.18,281.41 L161.60,281.41 L161.60,282.22 L163.02,282.22 L163.02,281.68 L164.44,281.68 L164.44,279.51 L165.86,279.51 L165.86,277.08 L167.28,277.08 L167.28,276.54 L168.70,276.54 L168.70,277.35 L170.12,277.35 L170.12,279.24 L171.54,279.24 L171.54,282.22 L172.96,282.22 L172.96,285.74 L174.38,285.74 L174.38,288.71 L175.80,288.71 L175.80,291.42 L177.22,291.42 L177.22,294.39 L178.64,294.39 L178.64,296.83 L180.06,296.83 L180.06,299.40 L181.48,299.40 L181.48,302.37 L182.90,302.37 L182.90,304.54 L184.32,304.54 L184.32,305.89 L185.74,305.89 L185.74,306.93 L187.16,306.93 L187.16,307.65 L188.58,307.65 L188.58,308.37 L190.00,308.37 L190.00,309.27 L191.42,309.27 L191.42,310.35 L192.84,310.35 L192.84,311.43 L194.26,311.43 L194.26,312.52 L195.68,312.52 L195.68,313.60 L197.10,313.60 L197.10,314.52 L198.52,314.52 L198.52,315.28 L199.94,315.28 L199.94,316.03 L201.36,316.03 L201.36,316.79 L202.78,316.79 L202.78,317.55 L204.20,317.55 L204.20,318.25 L205.62,318.25 L205.62,318.90 L207.04,318.90 L207.04,319.55 L208.46,319.55 L208.46,320.20 L209.88,320.20 L209.88,320.85 L211.30,320.85 L211.30,321.37 L212.72,321.37 L212.72,321.76 L214.14,321.76 L214.14,322.15 L215.56,322.15 L215.56,322.54 L216.98,322.54 L216.98,322.92 L218.40,322.92 L218.40,323.25 L219.82,323.25 L219.82,323.51 L221.24,323.51 L221.24,323.77 L222.66,323.77 L222.66,324.03 L224.08,324.03 L224.08,324.29 L225.50,324.29 L225.50,324.49 L226.92,324.49 L226.92,324.65 L228.34,324.65 L228.34,324.80 L229.76,324.80 L229.76,324.95 L231.18,324.95 L231.18,325.10 L232.60,325.10 L232.60,325.21 L234.02,325.21 L234.02,325.27 L235.44,325.27 L235.44,325.34 L236.86,325.34 L236.86,325.40 L238.28,325.40 L238.28,325.47 L239.70,325.47 L239.70,325.50 L241.12,325.50 L241.12,325.50 L242.54,325.50 L242.54,325.50 Z" fill="#787878" stroke="#555" stroke-width="0.35"/>
<line x1="155.92" y1="325.50" x2="155.92" y2="290.33" stroke="#686868" stroke-width="0.4"/>
<line x1="157.34" y1="325.50" x2="157.34" y2="285.20" stroke="#686868" stroke-width="0.4"/>
<line x1="158.76" y1="325.50" x2="158.76" y2="280.33" stroke="#686868" stroke-width="0.4"/>
<line x1="160.18" y1="325.50" x2="160.18" y2="281.41" stroke="#686868" stroke-width="0.4"/>
<line x1="161.60" y1="325.50" x2="161.60" y2="282.22" stroke="#686868" stroke-width="0.4"/>
<line x1="163.02" y1="325.50" x2="163.02" y2="282.22" stroke="#686868" stroke-width="0.4"/>
<line x1="164.44" y1="325.50" x2="164.44" y2="281.68" stroke="#686868" stroke-width="0.4"/>
<line x1="165.86" y1="325.50" x2="165.86" y2="279.51" stroke="#686868" stroke-width="0.4"/>
<line x1="167.28" y1="325.50" x2="167.28" y2="277.08" stroke="#686868" stroke-width="0.4"/>
<line x1="168.70" y1="325.50" x2="168.70" y2="277.35" stroke="#686868" stroke-width="0.4"/>
<line x1="170.12" y1="325.50" x2="170.12" y2="279.24" stroke="#686868" stroke-width="0.4"/>
<line x1="171.54" y1="325.50" x2="171.54" y2="282.22" stroke="#686868" stroke-width="0.4"/>
<line x1="172.96" y1="325.50" x2="172.96" y2="285.74" stroke="#686868" stroke-width="0.4"/>
<line x1="174.38" y1="325.50" x2="174.38" y2="288.71" stroke="#686868" stroke-width="0.4"/>
<line x1="175.80" y1="325.50" x2="175.80" y2="291.42" stroke="#686868" stroke-width="0.4"/>
<line x1="177.22" y1="325.50" x2="177.22" y2="294.39" stroke="#686868" stroke-width="0.4"/>
<line x1="178.64" y1="325.50" x2="178.64" y2="296.83" stroke="#686868" stroke-width="0.4"/>
<line x1="180.06" y1="325.50" x2="180.06" y2="299.40" stroke="#686868" stroke-width="0.4"/>
<line x1="181.48" y1="325.50" x2="181.48" y2="302.37" stroke="#686868" stroke-width="0.4"/>
<line x1="182.90" y1="325.50" x2="182.90" y2="304.54" stroke="#686868" stroke-width="0.4"/>
<line x1="184.32" y1="325.50" x2="184.32" y2="305.89" stroke="#686868" stroke-width="0.4"/>
<line x1="185.74" y1="325.50" x2="185.74" y2="306.93" stroke="#686868" stroke-width="0.4"/>
<line x1="187.16" y1="325.50" x2="187.16" y2="307.65" stroke="#686868" stroke-width="0.4"/>
<line x1="188.58" y1="325.50" x2="188.58" y2="308.37" stroke="#686868" stroke-width="0.4"/>
<line x1="190.00" y1="325.50" x2="190.00" y2="309.27" stroke="#686868" stroke-width="0.4"/>
<line x1="191.42" y1="325.50" x2="191.42" y2="310.35" stroke="#686868" stroke-width="0.4"/>
<line x1="192.84" y1="325.50" x2="192.84" y2="311.43" stroke="#686868" stroke-width="0.4"/>
<line x1="194.26" y1="325.50" x2="194.26" y2="312.52" stroke="#686868" stroke-width="0.4"/>
<line x1="195.68" y1="325.50" x2="195.68" y2="313.60" stroke="#686868" stroke-width="0.4"/>
<line x1="197.10" y1="325.50" x2="197.10" y2="314.52" stroke="#686868" stroke-width="0.4"/>
<line x1="198.52" y1="325.50" x2="198.52" y2="315.28" stroke="#686868" stroke-width="0.4"/>
<line x1="199.94" y1="325.50" x2="199.94" y2="316.03" stroke="#686868" stroke-width="0.4"/>
<line x1="201.36" y1="325.50" x2="201.36" y2="316.79" stroke="#686868" stroke-width="0.4"/>
<line x1="202.78" y1="325.50" x2="202.78" y2="317.55" stroke="#686868" stroke-width="0.4"/>
<line x1="204.20" y1="325.50" x2="204.20" y2="318.25" stroke="#686868" stroke-width="0.4"/>
<line x1="205.62" y1="325.50" x2="205.62" y2="318.90" stroke="#686868" stroke-width="0.4"/>
<line x1="207.04" y1="325.50" x2="207.04" y2="319.55" stroke="#686868" stroke-width="0.4"/>
<line x1="208.46" y1="325.50" x2="208.46" y2="320.20" stroke="#686868" stroke-width="0.4"/>
<line x1="209.88" y1="325.50" x2="209.88" y2="320.85" stroke="#686868" stroke-width="0.4"/>
<line x1="211.30" y1="325.50" x2="211.30" y2="321.37" stroke="#686868" stroke-width="0.4"/>
<line x1="212.72" y1="325.50" x2="212.72" y2="321.76" stroke="#686868" stroke-width="0.4"/>
<line x1="214.14" y1="325.50" x2="214.14" y2="322.15" stroke="#686868" stroke-width="0.4"/>
<line x1="215.56" y1="325.50" x2="215.56" y2="322.54" stroke="#686868" stroke-width="0.4"/>
<line x1="216.98" y1="325.50" x2="216.98" y2="322.92" stroke="#686868" stroke-width="0.4"/>
<line x1="218.40" y1="325.50" x2="218.40" y2="323.25" stroke="#686868" stroke-width="0.4"/>
<line x1="219.82" y1="325.50" x2="219.82" y2="323.51" stroke="#686868" stroke-width="0.4"/>
<line x1="221.24" y1="325.50" x2="221.24" y2="323.77" stroke="#686868" stroke-width="0.4"/>
<line x1="222.66" y1="325.50" x2="222.66" y2="324.03" stroke="#686868" stroke-width="0.4"/>
<line x1="224.08" y1="325.50" x2="224.08" y2="324.29" stroke="#686868" stroke-width="0.4"/>
<line x1="225.50" y1="325.50" x2="225.50" y2="324.49" stroke="#686868" stroke-width="0.4"/>
<line x1="176.04" y1="325.50" x2="176.04" y2="290.35" stroke="#7a1010" stroke-width="1.2"/>
<line x1="164.30" y1="325.50" x2="164.30" y2="260.58" stroke="#111" stroke-width="0.8" stroke-dasharray="1.5,1.3"/>
<line x1="175.80" y1="325.50" x2="175.80" y2="260.58" stroke="#111" stroke-width="0.8" stroke-dasharray="1.5,1.3"/>
<line x1="153.50" y1="260.58" x2="153.50" y2="325.80" stroke="#000" stroke-width="0.7" />
<line x1="153.20" y1="325.50" x2="244.67" y2="325.50" stroke="#000" stroke-width="0.7" />
<line x1="151.70" y1="325.50" x2="153.50" y2="325.50" stroke="#000" stroke-width="0.6" />
<text x="150.30" y="327.10" font-size="4.6" text-anchor="end" font-weight="normal" font-style="normal" fill="#000" >0</text>
<line x1="151.70" y1="303.86" x2="153.50" y2="303.86" stroke="#000" stroke-width="0.6" />
<text x="150.30" y="305.46" font-size="4.6" text-anchor="end" font-weight="normal" font-style="normal" fill="#000" >2</text>
<line x1="151.70" y1="282.22" x2="153.50" y2="282.22" stroke="#000" stroke-width="0.6" />
<text x="150.30" y="283.82" font-size="4.6" text-anchor="end" font-weight="normal" font-style="normal" fill="#000" >4</text>
<line x1="151.70" y1="260.58" x2="153.50" y2="260.58" stroke="#000" stroke-width="0.6" />
<text x="150.30" y="262.18" font-size="4.6" text-anchor="end" font-weight="normal" font-style="normal" fill="#000" >6</text>
<line x1="154.50" y1="325.50" x2="154.50" y2="327.30" stroke="#000" stroke-width="0.6" />
<text x="154.50" y="332.90" font-size="4.8" text-anchor="middle" font-weight="normal" font-style="normal" fill="#000" >0</text>
<line x1="168.70" y1="325.50" x2="168.70" y2="327.30" stroke="#000" stroke-width="0.6" />
<text x="168.70" y="332.90" font-size="4.8" text-anchor="middle" font-weight="normal" font-style="normal" fill="#000" >10</text>
<line x1="182.90" y1="325.50" x2="182.90" y2="327.30" stroke="#000" stroke-width="0.6" />
<text x="182.90" y="332.90" font-size="4.8" text-anchor="middle" font-weight="normal" font-style="normal" fill="#000" >20</text>
<line x1="197.10" y1="325.50" x2="197.10" y2="327.30" stroke="#000" stroke-width="0.6" />
<text x="197.10" y="332.90" font-size="4.8" text-anchor="middle" font-weight="normal" font-style="normal" fill="#000" >30</text>
<line x1="211.30" y1="325.50" x2="211.30" y2="327.30" stroke="#000" stroke-width="0.6" />
<text x="211.30" y="332.90" font-size="4.8" text-anchor="middle" font-weight="normal" font-style="normal" fill="#000" >40</text>
<line x1="225.50" y1="325.50" x2="225.50" y2="327.30" stroke="#000" stroke-width="0.6" />
<text x="225.50" y="332.90" font-size="4.8" text-anchor="middle" font-weight="normal" font-style="normal" fill="#000" >50</text>
<line x1="239.70" y1="325.50" x2="239.70" y2="327.30" stroke="#000" stroke-width="0.6" />
<text x="239.70" y="332.90" font-size="4.8" text-anchor="middle" font-weight="normal" font-style="normal" fill="#000" >60</text>
<text x="199.66" y="339.10" font-size="4.95" text-anchor="middle" font-weight="normal" font-style="normal" fill="#000" >Telomere length in kb</text>
<text transform="translate(141.80,291.96) rotate(-90)" font-size="5.2" text-anchor="middle">Percentage</text>
<text x="241.20" y="265.38" font-size="4.1" text-anchor="end" font-weight="normal" font-style="normal" fill="#000"  style="stroke-width:0.05px">42743 Tel, n=4, mean=15.17 kb</text>
<text x="241.20" y="270.03" font-size="4.1" text-anchor="end" font-weight="normal" font-style="normal" fill="#000"  style="stroke-width:0.05px">&lt;7.5kb=13.3%</text>
<text x="241.20" y="274.68" font-size="4.1" text-anchor="end" font-weight="normal" font-style="normal" fill="#000"  style="stroke-width:0.05px">&lt;15kb=59.8%</text>
<text x="241.20" y="279.33" font-size="4.1" text-anchor="end" font-weight="normal" font-style="normal" fill="#000"  style="stroke-width:0.05px">&gt;40kb=1.5%</text>
<text x="81.40" y="163.30" font-size="6.0" text-anchor="middle" font-style="italic" fill="#000">TRF1<tspan font-size="4.20" dy="-2.16" dx="0.72">flox/flox</tspan><tspan dy="2.16"> Mx1-wt</tspan></text>
<line x1="35.00" y1="166.80" x2="126.50" y2="166.80" stroke="#6a6a6a" stroke-width="1.3" />
<text x="200.00" y="163.30" font-size="6.0" text-anchor="middle" font-style="italic" fill="#000">TRF1<tspan font-size="4.20" dy="-2.16" dx="0.72">flox/flox</tspan><tspan dy="2.16"> Mx1-Cre</tspan></text>
<line x1="152.90" y1="166.80" x2="245.20" y2="166.80" stroke="#6a6a6a" stroke-width="1.3" />
<line x1="15.80" y1="173.10" x2="15.80" y2="237.40" stroke="#666" stroke-width="0.8" />
<line x1="15.80" y1="260.30" x2="15.80" y2="325.90" stroke="#666" stroke-width="0.8" />
<text transform="translate(11.3,200) rotate(-90)" font-size="5.8" text-anchor="middle">-pIpC</text>
<text transform="translate(11.3,293.4) rotate(-90)" font-size="5.8" text-anchor="middle">+pIpC</text>
<line x1="288.00" y1="15.50" x2="288.00" y2="90.80" stroke="#000" stroke-width="0.7" />
<line x1="288.00" y1="15.50" x2="337.50" y2="15.50" stroke="#000" stroke-width="0.8" />
<line x1="286.00" y1="15.50" x2="288.00" y2="15.50" stroke="#000" stroke-width="0.6" />
<text x="284.80" y="17.20" font-size="4.8" text-anchor="end" font-weight="normal" font-style="normal" fill="#000" >0</text>
<line x1="286.00" y1="28.01" x2="288.00" y2="28.01" stroke="#000" stroke-width="0.6" />
<text x="284.80" y="29.71" font-size="4.8" text-anchor="end" font-weight="normal" font-style="normal" fill="#000" >-10</text>
<line x1="286.00" y1="40.52" x2="288.00" y2="40.52" stroke="#000" stroke-width="0.6" />
<text x="284.80" y="42.22" font-size="4.8" text-anchor="end" font-weight="normal" font-style="normal" fill="#000" >-20</text>
<line x1="286.00" y1="53.03" x2="288.00" y2="53.03" stroke="#000" stroke-width="0.6" />
<text x="284.80" y="54.73" font-size="4.8" text-anchor="end" font-weight="normal" font-style="normal" fill="#000" >-30</text>
<line x1="286.00" y1="65.54" x2="288.00" y2="65.54" stroke="#000" stroke-width="0.6" />
<text x="284.80" y="67.24" font-size="4.8" text-anchor="end" font-weight="normal" font-style="normal" fill="#000" >-40</text>
<line x1="286.00" y1="78.05" x2="288.00" y2="78.05" stroke="#000" stroke-width="0.6" />
<text x="284.80" y="79.75" font-size="4.8" text-anchor="end" font-weight="normal" font-style="normal" fill="#000" >-50</text>
<line x1="286.00" y1="90.56" x2="288.00" y2="90.56" stroke="#000" stroke-width="0.6" />
<text x="284.80" y="92.26" font-size="4.8" text-anchor="end" font-weight="normal" font-style="normal" fill="#000" >-60</text>
<rect x="293.40" y="15.50" width="16.60" height="9.51" fill="#d6d6d6" stroke="#000" stroke-width="0.7" />
<line x1="301.70" y1="25.01" x2="301.70" y2="28.39" stroke="#000" stroke-width="0.7" />
<line x1="299.40" y1="28.39" x2="304.00" y2="28.39" stroke="#000" stroke-width="0.7" />
<rect x="317.30" y="15.50" width="16.40" height="56.29" fill="#d6d6d6" stroke="#000" stroke-width="0.7" />
<line x1="325.50" y1="71.79" x2="325.50" y2="81.80" stroke="#000" stroke-width="0.7" />
<line x1="323.00" y1="81.80" x2="328.00" y2="81.80" stroke="#000" stroke-width="0.7" />
<text x="301.30" y="34.20" font-size="4.3" text-anchor="middle" font-weight="normal" font-style="normal" fill="#000"  style="stroke-width:0.05px">n=3</text>
<text x="326.00" y="87.80" font-size="4.3" text-anchor="middle" font-weight="normal" font-style="normal" fill="#000"  style="stroke-width:0.05px">n=4</text>
<line x1="300.90" y1="36.20" x2="300.90" y2="59.60" stroke="#000" stroke-width="0.6" />
<line x1="300.90" y1="67.80" x2="300.90" y2="90.70" stroke="#000" stroke-width="0.6" />
<line x1="300.90" y1="90.70" x2="326.00" y2="90.70" stroke="#000" stroke-width="0.6" />
<line x1="326.00" y1="89.00" x2="326.00" y2="90.70" stroke="#000" stroke-width="0.6" />
<text x="302.50" y="65.40" font-size="4.9" text-anchor="middle" font-weight="normal" font-style="italic" fill="#000" >~ 6-fold</text>
<text x="314.30" y="97.20" font-size="4.3" text-anchor="middle" font-weight="normal" font-style="normal" fill="#000"  style="stroke-width:0.05px">p=0.01</text>
<text x="300.30" y="5.60" font-size="4.6" text-anchor="middle" font-style="italic" fill="#000">TRF1<tspan font-size="3.22" dy="-1.66" dx="0.55">flox/flox</tspan><tspan dy="1.66"></tspan></text>
<text x="299.80" y="12.60" font-size="4.8" text-anchor="middle" font-weight="normal" font-style="italic" fill="#000" >Mx1-wt</text>
<text x="327.20" y="5.60" font-size="4.6" text-anchor="middle" font-style="italic" fill="#000">TRF1<tspan font-size="3.22" dy="-1.66" dx="0.55">flox/flox</tspan><tspan dy="1.66"></tspan></text>
<text x="326.80" y="12.60" font-size="4.8" text-anchor="middle" font-weight="normal" font-style="italic" fill="#000" >Mx1-Cre</text>
<text transform="translate(267.2,52) rotate(-90)" font-size="5.0" text-anchor="middle">Telomere shortening compared to</text>
<text transform="translate(273.6,51.5) rotate(-90)" font-size="5.0" text-anchor="middle">untreated group in %</text>
<line x1="387.80" y1="16.50" x2="387.80" y2="91.20" stroke="#000" stroke-width="0.8" />
<line x1="387.50" y1="90.90" x2="498.60" y2="90.90" stroke="#000" stroke-width="0.8" />
<line x1="385.80" y1="90.90" x2="387.80" y2="90.90" stroke="#000" stroke-width="0.6" />
<text x="384.00" y="92.60" font-size="4.7" text-anchor="end" font-weight="normal" font-style="normal" fill="#000" >10</text>
<line x1="385.80" y1="72.55" x2="387.80" y2="72.55" stroke="#000" stroke-width="0.6" />
<text x="384.00" y="74.25" font-size="4.7" text-anchor="end" font-weight="normal" font-style="normal" fill="#000" >20</text>
<line x1="385.80" y1="54.20" x2="387.80" y2="54.20" stroke="#000" stroke-width="0.6" />
<text x="384.00" y="55.90" font-size="4.7" text-anchor="end" font-weight="normal" font-style="normal" fill="#000" >30</text>
<line x1="385.80" y1="35.85" x2="387.80" y2="35.85" stroke="#000" stroke-width="0.6" />
<text x="384.00" y="37.55" font-size="4.7" text-anchor="end" font-weight="normal" font-style="normal" fill="#000" >40</text>
<line x1="385.80" y1="17.50" x2="387.80" y2="17.50" stroke="#000" stroke-width="0.6" />
<text x="384.00" y="19.20" font-size="4.7" text-anchor="end" font-weight="normal" font-style="normal" fill="#000" >50</text>
<line x1="395.40" y1="90.90" x2="395.40" y2="92.90" stroke="#000" stroke-width="0.6" />
<text x="395.40" y="98.90" font-size="4.7" text-anchor="middle" font-weight="normal" font-style="normal" fill="#000" >0</text>
<line x1="429.70" y1="90.90" x2="429.70" y2="92.90" stroke="#000" stroke-width="0.6" />
<text x="429.70" y="98.90" font-size="4.7" text-anchor="middle" font-weight="normal" font-style="normal" fill="#000" >5</text>
<line x1="464.00" y1="90.90" x2="464.00" y2="92.90" stroke="#000" stroke-width="0.6" />
<text x="464.00" y="98.90" font-size="4.7" text-anchor="middle" font-weight="normal" font-style="normal" fill="#000" >10</text>
<line x1="498.30" y1="90.90" x2="498.30" y2="92.90" stroke="#000" stroke-width="0.6" />
<text x="498.30" y="98.90" font-size="4.7" text-anchor="middle" font-weight="normal" font-style="normal" fill="#000" >15</text>
<text x="446.20" y="104.80" font-size="4.9" text-anchor="middle" font-weight="normal" font-style="normal" fill="#000" >Time (w)</text>
<text transform="translate(371.8,52) rotate(-90)" font-size="4.9" text-anchor="middle">Telomere length in kb</text>
<polyline points="395.40,34.93 422.84,25.76 450.28,36.77 477.72,35.85" fill="none" stroke="#dd2222" stroke-width="1.1"/>
<line x1="395.40" y1="40.80" x2="395.40" y2="29.06" stroke="#dd2222" stroke-width="1.1" />
<line x1="393.50" y1="29.06" x2="397.30" y2="29.06" stroke="#dd2222" stroke-width="1.1" />
<line x1="393.50" y1="40.80" x2="397.30" y2="40.80" stroke="#dd2222" stroke-width="1.1" />
<path d="M395.40,33.13 L397.20,34.93 L395.40,36.73 L393.60,34.93 Z" fill="#f4a0a0" stroke="#dd2222" stroke-width="1.0"/>
<line x1="422.84" y1="33.46" x2="422.84" y2="18.05" stroke="#dd2222" stroke-width="1.1" />
<line x1="420.94" y1="18.05" x2="424.74" y2="18.05" stroke="#dd2222" stroke-width="1.1" />
<line x1="420.94" y1="33.46" x2="424.74" y2="33.46" stroke="#dd2222" stroke-width="1.1" />
<path d="M422.84,23.96 L424.64,25.76 L422.84,27.56 L421.04,25.76 Z" fill="#f4a0a0" stroke="#dd2222" stroke-width="1.0"/>
<line x1="450.28" y1="47.78" x2="450.28" y2="25.76" stroke="#dd2222" stroke-width="1.1" />
<line x1="448.38" y1="25.76" x2="452.18" y2="25.76" stroke="#dd2222" stroke-width="1.1" />
<line x1="448.38" y1="47.78" x2="452.18" y2="47.78" stroke="#dd2222" stroke-width="1.1" />
<path d="M450.28,34.97 L452.08,36.77 L450.28,38.57 L448.48,36.77 Z" fill="#f4a0a0" stroke="#dd2222" stroke-width="1.0"/>
<line x1="477.72" y1="38.79" x2="477.72" y2="32.91" stroke="#dd2222" stroke-width="1.1" />
<line x1="475.82" y1="32.91" x2="479.62" y2="32.91" stroke="#dd2222" stroke-width="1.1" />
<line x1="475.82" y1="38.79" x2="479.62" y2="38.79" stroke="#dd2222" stroke-width="1.1" />
<path d="M477.72,34.05 L479.52,35.85 L477.72,37.65 L475.92,35.85 Z" fill="#f4a0a0" stroke="#dd2222" stroke-width="1.0"/>
<polyline points="395.40,50.53 422.84,59.71 450.28,77.14" fill="none" stroke="#111" stroke-width="1.1"/>
<line x1="395.40" y1="58.97" x2="395.40" y2="42.09" stroke="#111" stroke-width="1.1" />
<line x1="393.50" y1="42.09" x2="397.30" y2="42.09" stroke="#111" stroke-width="1.1" />
<line x1="393.50" y1="58.97" x2="397.30" y2="58.97" stroke="#111" stroke-width="1.1" />
<path d="M395.40,48.73 L397.20,50.53 L395.40,52.33 L393.60,50.53 Z" fill="#fff" stroke="#111" stroke-width="1.0"/>
<line x1="422.84" y1="62.64" x2="422.84" y2="56.77" stroke="#111" stroke-width="1.1" />
<line x1="420.94" y1="56.77" x2="424.74" y2="56.77" stroke="#111" stroke-width="1.1" />
<line x1="420.94" y1="62.64" x2="424.74" y2="62.64" stroke="#111" stroke-width="1.1" />
<path d="M422.84,57.91 L424.64,59.71 L422.84,61.51 L421.04,59.71 Z" fill="#fff" stroke="#111" stroke-width="1.0"/>
<line x1="450.28" y1="80.44" x2="450.28" y2="73.83" stroke="#111" stroke-width="1.1" />
<line x1="448.38" y1="73.83" x2="452.18" y2="73.83" stroke="#111" stroke-width="1.1" />
<line x1="448.38" y1="80.44" x2="452.18" y2="80.44" stroke="#111" stroke-width="1.1" />
<path d="M450.28,75.34 L452.08,77.14 L450.28,78.94 L448.48,77.14 Z" fill="#fff" stroke="#111" stroke-width="1.0"/>
<rect x="463.40" y="55.00" width="8.20" height="3.60" fill="#d01c1c" stroke="#400" stroke-width="0.6" />
<text x="474.60" y="57.70" font-size="4.7" text-anchor="start" font-style="italic" fill="#000">TRF1<tspan font-size="3.29" dy="-1.69" dx="0.56">flox/flox</tspan><tspan dy="1.69"></tspan></text>
<text x="474.60" y="63.80" font-size="4.7" text-anchor="start" font-weight="normal" font-style="italic" fill="#000" >Mx1-wt (n=6)</text>
<rect x="463.40" y="70.50" width="8.20" height="3.60" fill="#111" stroke="#000" stroke-width="0.6" />
<text x="474.60" y="74.00" font-size="4.7" text-anchor="start" font-style="italic" fill="#000">TRF1<tspan font-size="3.29" dy="-1.69" dx="0.56">flox/flox</tspan><tspan dy="1.69"></tspan></text>
<text x="474.60" y="80.10" font-size="4.7" text-anchor="start" font-weight="normal" font-style="italic" fill="#000" >Mx1-Cre (n=6)</text>
<text x="319.40" y="116.00" font-size="5.0" text-anchor="middle" font-weight="bold" font-style="normal" fill="#000" stroke="#000" stroke-width="0.18">Telomeres &lt;15 kb</text>
<text x="319.60" y="121.30" font-size="5.0" text-anchor="middle" font-weight="bold" font-style="normal" fill="#000" stroke="#000" stroke-width="0.18">BM Q-FISH</text>
<line x1="288.40" y1="124.10" x2="349.60" y2="124.10" stroke="#333" stroke-width="0.9" />
<line x1="290.20" y1="140.30" x2="290.20" y2="233.80" stroke="#000" stroke-width="0.7" />
<line x1="289.90" y1="233.50" x2="352.00" y2="233.50" stroke="#000" stroke-width="0.7" />
<line x1="288.20" y1="233.50" x2="290.20" y2="233.50" stroke="#000" stroke-width="0.6" />
<text x="286.80" y="235.20" font-size="4.8" text-anchor="end" font-weight="normal" font-style="normal" fill="#000" >0</text>
<line x1="288.20" y1="210.20" x2="290.20" y2="210.20" stroke="#000" stroke-width="0.6" />
<text x="286.80" y="211.90" font-size="4.8" text-anchor="end" font-weight="normal" font-style="normal" fill="#000" >20</text>
<line x1="288.20" y1="186.90" x2="290.20" y2="186.90" stroke="#000" stroke-width="0.6" />
<text x="286.80" y="188.60" font-size="4.8" text-anchor="end" font-weight="normal" font-style="normal" fill="#000" >40</text>
<line x1="288.20" y1="163.60" x2="290.20" y2="163.60" stroke="#000" stroke-width="0.6" />
<text x="286.80" y="165.30" font-size="4.8" text-anchor="end" font-weight="normal" font-style="normal" fill="#000" >60</text>
<line x1="288.20" y1="140.30" x2="290.20" y2="140.30" stroke="#000" stroke-width="0.6" />
<text x="286.80" y="142.00" font-size="4.8" text-anchor="end" font-weight="normal" font-style="normal" fill="#000" >80</text>
<text transform="translate(269.9,188.5) rotate(-90)" font-size="4.9" text-anchor="middle">Percentage of telomeres &lt;15 kb</text>
<rect x="292.90" y="229.07" width="10.20" height="4.43" fill="#5c5c5c" stroke="#000" stroke-width="0.85" />
<line x1="298.00" y1="229.07" x2="298.00" y2="228.14" stroke="#000" stroke-width="0.7" />
<line x1="295.80" y1="228.14" x2="300.20" y2="228.14" stroke="#000" stroke-width="0.7" />
<rect x="303.10" y="223.48" width="11.30" height="10.02" fill="#d6d6d6" stroke="#000" stroke-width="0.85" />
<line x1="308.75" y1="223.48" x2="308.75" y2="220.10" stroke="#000" stroke-width="0.7" />
<line x1="306.55" y1="220.10" x2="310.95" y2="220.10" stroke="#000" stroke-width="0.7" />
<rect x="323.90" y="219.40" width="10.70" height="14.10" fill="#5c5c5c" stroke="#000" stroke-width="0.85" />
<line x1="329.25" y1="219.40" x2="329.25" y2="218.35" stroke="#000" stroke-width="0.7" />
<line x1="327.05" y1="218.35" x2="331.45" y2="218.35" stroke="#000" stroke-width="0.7" />
<rect x="334.60" y="163.72" width="11.00" height="69.78" fill="#d6d6d6" stroke="#000" stroke-width="0.85" />
<line x1="340.10" y1="163.72" x2="340.10" y2="161.50" stroke="#000" stroke-width="0.7" />
<line x1="337.90" y1="161.50" x2="342.30" y2="161.50" stroke="#000" stroke-width="0.7" />
<text x="298.00" y="225.80" font-size="4.3" text-anchor="middle" font-weight="normal" font-style="normal" fill="#000"  style="stroke-width:0.05px">n=5</text>
<text x="309.00" y="216.50" font-size="4.3" text-anchor="middle" font-weight="normal" font-style="normal" fill="#000"  style="stroke-width:0.05px">n=3</text>
<text x="329.20" y="215.80" font-size="4.3" text-anchor="middle" font-weight="normal" font-style="normal" fill="#000"  style="stroke-width:0.05px">n=4</text>
<text x="340.20" y="158.20" font-size="4.3" text-anchor="middle" font-weight="normal" font-style="normal" fill="#000"  style="stroke-width:0.05px">n=4</text>
<polyline points="298.7,135.5 298.7,133.9 329.4,133.9 329.4,135.5" fill="none" stroke="#000" stroke-width="0.55"/>
<text x="316.00" y="131.30" font-size="4.3" text-anchor="middle" font-weight="normal" font-style="normal" fill="#000"  style="stroke-width:0.05px">p=0.004</text>
<polyline points="298.2,221.2 298.2,141.5 308.3,141.5 308.3,211.5" fill="none" stroke="#000" stroke-width="0.55"/>
<text x="303.80" y="140.40" font-size="4.3" text-anchor="middle" font-weight="normal" font-style="normal" fill="#000"  style="stroke-width:0.05px">p=0.18</text>
<polyline points="310.3,211.5 310.3,141.5 339.9,141.5 339.9,143.3" fill="none" stroke="#000" stroke-width="0.55"/>
<line x1="329.40" y1="141.50" x2="329.40" y2="143.30" stroke="#000" stroke-width="0.55" />
<text x="325.30" y="140.40" font-size="4.3" text-anchor="middle" font-weight="normal" font-style="normal" fill="#000"  style="stroke-width:0.05px">p&lt;0.001</text>
<polyline points="329.2,211.2 329.2,151.1 339.9,151.1 339.9,153.0" fill="none" stroke="#000" stroke-width="0.55"/>
<text x="335.30" y="147.90" font-size="4.3" text-anchor="middle" font-weight="normal" font-style="normal" fill="#000"  style="stroke-width:0.05px">p&lt;0.001</text>
<text x="303.70" y="240.90" font-size="4.6" text-anchor="middle" font-style="italic" fill="#000">TRF1<tspan font-size="3.22" dy="-1.66" dx="0.55">flox/flox</tspan><tspan dy="1.66"></tspan></text>
<text x="303.70" y="247.60" font-size="4.9" text-anchor="middle" font-weight="normal" font-style="italic" fill="#000" >Mx1-wt</text>
<text x="334.90" y="240.90" font-size="4.6" text-anchor="middle" font-style="italic" fill="#000">TRF1<tspan font-size="3.22" dy="-1.66" dx="0.55">flox/flox</tspan><tspan dy="1.66"></tspan></text>
<text x="334.90" y="247.60" font-size="4.9" text-anchor="middle" font-weight="normal" font-style="italic" fill="#000" >Mx1-Cre</text>
<rect x="349.60" y="142.70" width="8.90" height="4.20" fill="#5c5c5c" stroke="#000" stroke-width="0.8" />
<text x="361.00" y="146.90" font-size="5.1" text-anchor="start" font-weight="normal" font-style="normal" fill="#000" >-pIpC</text>
<rect x="349.60" y="151.00" width="8.90" height="4.20" fill="#e0e0e0" stroke="#000" stroke-width="0.8" />
<text x="361.00" y="155.20" font-size="5.1" text-anchor="start" font-weight="normal" font-style="normal" fill="#000" >+pIpC</text>
<text x="445.60" y="116.00" font-size="5.0" text-anchor="middle" font-weight="bold" font-style="normal" fill="#000" stroke="#000" stroke-width="0.18">Telomeres &lt;15 kb</text>
<text x="445.50" y="121.30" font-size="5.0" text-anchor="middle" font-weight="bold" font-style="normal" fill="#000" stroke="#000" stroke-width="0.18">HT-Q-FISH</text>
<line x1="414.00" y1="124.10" x2="474.30" y2="124.10" stroke="#333" stroke-width="0.9" />
<line x1="412.70" y1="141.30" x2="412.70" y2="233.80" stroke="#000" stroke-width="0.7" />
<line x1="412.40" y1="233.80" x2="476.50" y2="233.80" stroke="#000" stroke-width="0.7" />
<line x1="410.70" y1="233.50" x2="412.70" y2="233.50" stroke="#000" stroke-width="0.6" />
<text x="409.30" y="235.20" font-size="4.8" text-anchor="end" font-weight="normal" font-style="normal" fill="#000" >0</text>
<line x1="410.70" y1="210.45" x2="412.70" y2="210.45" stroke="#000" stroke-width="0.6" />
<text x="409.30" y="212.15" font-size="4.8" text-anchor="end" font-weight="normal" font-style="normal" fill="#000" >5</text>
<line x1="410.70" y1="187.40" x2="412.70" y2="187.40" stroke="#000" stroke-width="0.6" />
<text x="409.30" y="189.10" font-size="4.8" text-anchor="end" font-weight="normal" font-style="normal" fill="#000" >10</text>
<line x1="410.70" y1="164.35" x2="412.70" y2="164.35" stroke="#000" stroke-width="0.6" />
<text x="409.30" y="166.05" font-size="4.8" text-anchor="end" font-weight="normal" font-style="normal" fill="#000" >15</text>
<line x1="410.70" y1="141.30" x2="412.70" y2="141.30" stroke="#000" stroke-width="0.6" />
<text x="409.30" y="143.00" font-size="4.8" text-anchor="end" font-weight="normal" font-style="normal" fill="#000" >20</text>
<text transform="translate(397.5,187) rotate(-90)" font-size="4.9" text-anchor="middle">Percentage of telomeres &lt;15 kb</text>
<rect x="417.30" y="225.20" width="6.80" height="8.30" fill="#fff" stroke="#000" stroke-width="0.8" />
<rect x="424.10" y="219.21" width="7.50" height="14.29" fill="#d6d6d6" stroke="#000" stroke-width="0.8" />
<rect x="437.80" y="225.20" width="6.70" height="8.30" fill="#fff" stroke="#000" stroke-width="0.8" />
<rect x="444.50" y="211.37" width="6.90" height="22.13" fill="#d6d6d6" stroke="#000" stroke-width="0.8" />
<rect x="458.20" y="227.05" width="7.10" height="6.45" fill="#fff" stroke="#000" stroke-width="0.8" />
<rect x="465.30" y="164.81" width="6.50" height="68.69" fill="#d6d6d6" stroke="#000" stroke-width="0.8" />
<text x="420.70" y="220.50" font-size="4.2" text-anchor="middle" font-weight="normal" font-style="normal" fill="#000"  style="stroke-width:0.05px">n=6</text>
<text x="427.80" y="214.50" font-size="4.2" text-anchor="middle" font-weight="normal" font-style="normal" fill="#000"  style="stroke-width:0.05px">n=6</text>
<text x="441.10" y="220.50" font-size="4.2" text-anchor="middle" font-weight="normal" font-style="normal" fill="#000"  style="stroke-width:0.05px">n=6</text>
<text x="448.00" y="206.50" font-size="4.2" text-anchor="middle" font-weight="normal" font-style="normal" fill="#000"  style="stroke-width:0.05px">n=8</text>
<text x="461.70" y="222.00" font-size="4.2" text-anchor="middle" font-weight="normal" font-style="normal" fill="#000"  style="stroke-width:0.05px">n=6</text>
<text x="468.50" y="160.00" font-size="4.2" text-anchor="middle" font-weight="normal" font-style="normal" fill="#000"  style="stroke-width:0.05px">n=5</text>
<polyline points="422.0,217.0 422.0,193.3 431.0,193.3 431.0,200.5" fill="none" stroke="#000" stroke-width="0.55"/>
<text x="426.30" y="191.50" font-size="4.2" text-anchor="middle" font-weight="normal" font-style="normal" fill="#000"  style="stroke-width:0.05px">p=0.81</text>
<polyline points="441.5,217.0 441.5,193.3 450.0,193.3 450.0,202.5" fill="none" stroke="#000" stroke-width="0.55"/>
<text x="445.50" y="191.50" font-size="4.2" text-anchor="middle" font-weight="normal" font-style="normal" fill="#000"  style="stroke-width:0.05px">p=0.37</text>
<polyline points="461.5,219.0 461.5,150.5 468.5,150.5 468.5,156.0" fill="none" stroke="#000" stroke-width="0.55"/>
<text x="466.00" y="148.70" font-size="4.2" text-anchor="middle" font-weight="normal" font-style="normal" fill="#000"  style="stroke-width:0.05px">p=0.04</text>
<text x="425.50" y="241.60" font-size="4.9" text-anchor="middle" font-weight="normal" font-style="normal" fill="#000" >Week 0</text>
<text x="444.60" y="241.60" font-size="4.9" text-anchor="middle" font-weight="normal" font-style="normal" fill="#000" >Week 4</text>
<text x="466.00" y="241.60" font-size="4.9" text-anchor="middle" font-weight="normal" font-style="normal" fill="#000" >Week 8</text>
<rect x="481.50" y="143.00" width="9.10" height="4.20" fill="#fff" stroke="#000" stroke-width="0.9" />
<text x="505.70" y="146.80" font-size="4.9" text-anchor="middle" font-style="italic" fill="#000">TRF1<tspan font-size="3.43" dy="-1.76" dx="0.59">flox/flox</tspan><tspan dy="1.76"></tspan></text>
<text x="505.70" y="153.60" font-size="4.9" text-anchor="middle" font-weight="normal" font-style="italic" fill="#000" >Mx1-wt</text>
<rect x="481.50" y="156.30" width="9.10" height="4.20" fill="#e0e0e0" stroke="#000" stroke-width="0.9" />
<text x="505.70" y="159.70" font-size="4.9" text-anchor="middle" font-style="italic" fill="#000">TRF1<tspan font-size="3.43" dy="-1.76" dx="0.59">flox/flox</tspan><tspan dy="1.76"></tspan></text>
<text x="505.30" y="166.60" font-size="4.9" text-anchor="middle" font-weight="normal" font-style="italic" fill="#000" >Mx1-Cre</text>
<line x1="287.20" y1="258.20" x2="287.20" y2="326.50" stroke="#000" stroke-width="0.7" />
<line x1="286.90" y1="326.20" x2="387.50" y2="326.20" stroke="#000" stroke-width="0.7" />
<line x1="285.20" y1="326.20" x2="287.20" y2="326.20" stroke="#000" stroke-width="0.6" />
<text x="283.80" y="327.90" font-size="4.8" text-anchor="end" font-weight="normal" font-style="normal" fill="#000" >0</text>
<line x1="285.20" y1="312.60" x2="287.20" y2="312.60" stroke="#000" stroke-width="0.6" />
<text x="283.80" y="314.30" font-size="4.8" text-anchor="end" font-weight="normal" font-style="normal" fill="#000" >5</text>
<line x1="285.20" y1="299.00" x2="287.20" y2="299.00" stroke="#000" stroke-width="0.6" />
<text x="283.80" y="300.70" font-size="4.8" text-anchor="end" font-weight="normal" font-style="normal" fill="#000" >10</text>
<line x1="285.20" y1="285.40" x2="287.20" y2="285.40" stroke="#000" stroke-width="0.6" />
<text x="283.80" y="287.10" font-size="4.8" text-anchor="end" font-weight="normal" font-style="normal" fill="#000" >15</text>
<line x1="285.20" y1="271.80" x2="287.20" y2="271.80" stroke="#000" stroke-width="0.6" />
<text x="283.80" y="273.50" font-size="4.8" text-anchor="end" font-weight="normal" font-style="normal" fill="#000" >20</text>
<line x1="285.20" y1="258.20" x2="287.20" y2="258.20" stroke="#000" stroke-width="0.6" />
<text x="283.80" y="259.90" font-size="4.8" text-anchor="end" font-weight="normal" font-style="normal" fill="#000" >25</text>
<line x1="287.60" y1="326.20" x2="287.60" y2="328.20" stroke="#000" stroke-width="0.6" />
<text x="287.60" y="332.90" font-size="4.8" text-anchor="middle" font-weight="normal" font-style="normal" fill="#000" >0</text>
<line x1="320.70" y1="326.20" x2="320.70" y2="328.20" stroke="#000" stroke-width="0.6" />
<text x="320.70" y="332.90" font-size="4.8" text-anchor="middle" font-weight="normal" font-style="normal" fill="#000" >1</text>
<line x1="353.80" y1="326.20" x2="353.80" y2="328.20" stroke="#000" stroke-width="0.6" />
<text x="353.80" y="332.90" font-size="4.8" text-anchor="middle" font-weight="normal" font-style="normal" fill="#000" >2</text>
<line x1="386.90" y1="326.20" x2="386.90" y2="328.20" stroke="#000" stroke-width="0.6" />
<text x="386.90" y="332.90" font-size="4.8" text-anchor="middle" font-weight="normal" font-style="normal" fill="#000" >3</text>
<text x="333.50" y="339.60" font-size="4.9" text-anchor="middle" font-weight="normal" font-style="normal" fill="#000" >Survival (w) after last measurement</text>
<text transform="translate(268.9,291.75) rotate(-90)" font-size="5.0" text-anchor="middle">Percentage of telomeres &lt;15 kb</text>
<line x1="292.56" y1="281.86" x2="378.62" y2="312.60" stroke="#c83030" stroke-width="1.0"/>
<circle cx="292.56" cy="285.40" r="1.5" fill="#fff" stroke="#000" stroke-width="1.15"/>
<circle cx="292.56" cy="288.66" r="1.5" fill="#fff" stroke="#000" stroke-width="1.15"/>
<circle cx="292.56" cy="290.84" r="1.5" fill="#fff" stroke="#000" stroke-width="1.15"/>
<circle cx="302.50" cy="270.98" r="1.5" fill="#fff" stroke="#000" stroke-width="1.15"/>
<circle cx="316.40" cy="275.88" r="1.5" fill="#fff" stroke="#000" stroke-width="1.15"/>
<circle cx="353.80" cy="308.52" r="1.5" fill="#fff" stroke="#000" stroke-width="1.15"/>
<circle cx="368.70" cy="318.04" r="1.5" fill="#fff" stroke="#000" stroke-width="1.15"/>
<circle cx="378.62" cy="307.16" r="1.5" fill="#fff" stroke="#000" stroke-width="1.15"/>
<text x="293.00" y="315.60" font-size="4.3" text-anchor="start" font-weight="normal" font-style="normal" fill="#000"  style="stroke-width:0.05px">r= -0.80</text>
<text x="293.00" y="320.20" font-size="4.3" text-anchor="start" font-weight="normal" font-style="normal" fill="#000"  style="stroke-width:0.05px">p=0.02</text>
<line x1="414.00" y1="258.40" x2="414.00" y2="326.50" stroke="#000" stroke-width="0.7" />
<line x1="413.70" y1="326.20" x2="515.00" y2="326.20" stroke="#000" stroke-width="0.7" />
<line x1="412.00" y1="326.20" x2="414.00" y2="326.20" stroke="#000" stroke-width="0.6" />
<text x="410.60" y="327.90" font-size="4.8" text-anchor="end" font-weight="normal" font-style="normal" fill="#000" >0</text>
<line x1="412.00" y1="303.60" x2="414.00" y2="303.60" stroke="#000" stroke-width="0.6" />
<text x="410.60" y="305.30" font-size="4.8" text-anchor="end" font-weight="normal" font-style="normal" fill="#000" >10</text>
<line x1="412.00" y1="281.00" x2="414.00" y2="281.00" stroke="#000" stroke-width="0.6" />
<text x="410.60" y="282.70" font-size="4.8" text-anchor="end" font-weight="normal" font-style="normal" fill="#000" >20</text>
<line x1="412.00" y1="258.40" x2="414.00" y2="258.40" stroke="#000" stroke-width="0.6" />
<text x="410.60" y="260.10" font-size="4.8" text-anchor="end" font-weight="normal" font-style="normal" fill="#000" >30</text>
<line x1="414.00" y1="326.20" x2="414.00" y2="328.20" stroke="#000" stroke-width="0.6" />
<text x="414.00" y="332.90" font-size="4.8" text-anchor="middle" font-weight="normal" font-style="normal" fill="#000" >0</text>
<line x1="447.20" y1="326.20" x2="447.20" y2="328.20" stroke="#000" stroke-width="0.6" />
<text x="447.20" y="332.90" font-size="4.8" text-anchor="middle" font-weight="normal" font-style="normal" fill="#000" >1</text>
<line x1="480.40" y1="326.20" x2="480.40" y2="328.20" stroke="#000" stroke-width="0.6" />
<text x="480.40" y="332.90" font-size="4.8" text-anchor="middle" font-weight="normal" font-style="normal" fill="#000" >2</text>
<line x1="513.60" y1="326.20" x2="513.60" y2="328.20" stroke="#000" stroke-width="0.6" />
<text x="513.60" y="332.90" font-size="4.8" text-anchor="middle" font-weight="normal" font-style="normal" fill="#000" >3</text>
<text x="463.50" y="339.60" font-size="4.9" text-anchor="middle" font-weight="normal" font-style="normal" fill="#000" >Survival (w) after last measurement</text>
<text transform="translate(398.4,293.2) rotate(-90)" font-size="4.9" text-anchor="middle">Telomere length in kb</text>
<line x1="418.98" y1="290.72" x2="505.30" y2="267.89" stroke="#c83030" stroke-width="1.0"/>
<circle cx="418.98" cy="284.39" r="1.5" fill="#fff" stroke="#000" stroke-width="1.15"/>
<circle cx="418.98" cy="289.36" r="1.5" fill="#fff" stroke="#000" stroke-width="1.15"/>
<circle cx="418.98" cy="295.46" r="1.5" fill="#fff" stroke="#000" stroke-width="1.15"/>
<circle cx="428.94" cy="290.49" r="1.5" fill="#fff" stroke="#000" stroke-width="1.15"/>
<circle cx="442.88" cy="287.78" r="1.5" fill="#fff" stroke="#000" stroke-width="1.15"/>
<circle cx="480.40" cy="266.76" r="1.5" fill="#fff" stroke="#000" stroke-width="1.15"/>
<circle cx="494.34" cy="274.67" r="1.5" fill="#fff" stroke="#000" stroke-width="1.15"/>
<circle cx="504.30" cy="267.89" r="1.5" fill="#fff" stroke="#000" stroke-width="1.15"/>
<text x="418.40" y="315.40" font-size="4.3" text-anchor="start" font-weight="normal" font-style="normal" fill="#000"  style="stroke-width:0.05px">r=0.96</text>
<text x="418.40" y="320.30" font-size="4.3" text-anchor="start" font-weight="normal" font-style="normal" fill="#000"  style="stroke-width:0.05px">p=0.002</text>
</svg></body></html>
